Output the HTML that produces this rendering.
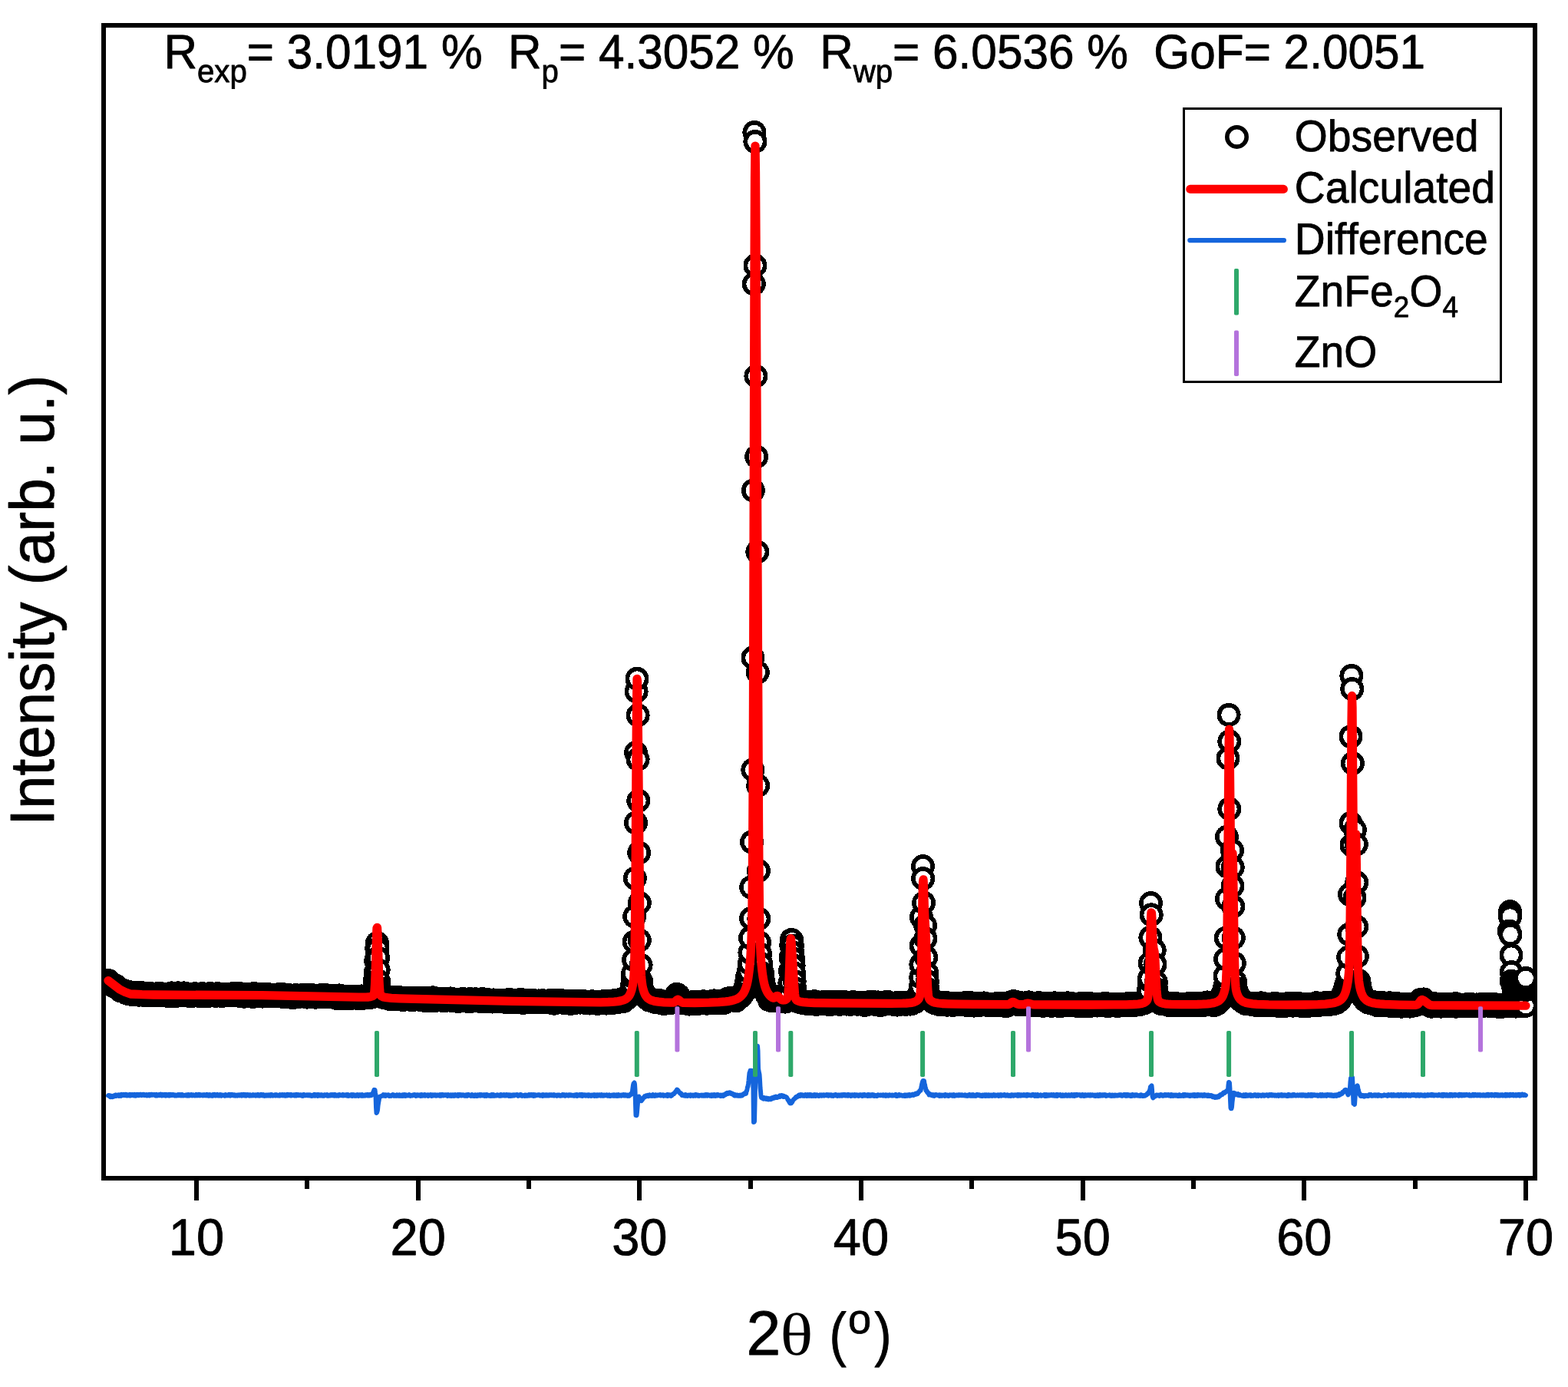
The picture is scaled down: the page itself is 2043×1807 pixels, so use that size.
<!DOCTYPE html>
<html lang="en">
<head>
<meta charset="utf-8">
<title>Rietveld refinement - ZnFe2O4 / ZnO</title>
<style>
  html, body { margin: 0; padding: 0; background: #ffffff; }
  body { width: 2043px; height: 1807px; overflow: hidden; }
  svg { display: block; }
  text { font-family: "Liberation Sans", Arial, Helvetica, sans-serif; fill: #000000; stroke: #000000; stroke-width: 0.8px; stroke-linejoin: round; white-space: pre; font-kerning: none; text-rendering: geometricPrecision; }
  .serif { font-family: "Liberation Serif", "Times New Roman", serif; stroke: none; }
</style>
</head>
<body>
<svg width="2043" height="1807" viewBox="0 0 2043 1807">
  <rect x="0" y="0" width="2043" height="1807" fill="#ffffff"/>

  <!-- plot frame -->
  <g shape-rendering="crispEdges">
    <rect x="135" y="33" width="1865" height="1502" fill="none" stroke="#000000" stroke-width="6"/>
    <!-- major ticks -->
    <g fill="#000000">
      <rect x="253" y="1535" width="6" height="29"/>
      <rect x="542" y="1535" width="6" height="29"/>
      <rect x="830" y="1535" width="6" height="29"/>
      <rect x="1119" y="1535" width="6" height="29"/>
      <rect x="1408" y="1535" width="6" height="29"/>
      <rect x="1696" y="1535" width="6" height="29"/>
      <rect x="1985" y="1535" width="6" height="29"/>
      <!-- minor ticks -->
      <rect x="397" y="1535" width="6" height="14"/>
      <rect x="686" y="1535" width="6" height="14"/>
      <rect x="975" y="1535" width="6" height="14"/>
      <rect x="1263" y="1535" width="6" height="14"/>
      <rect x="1552" y="1535" width="6" height="14"/>
      <rect x="1841" y="1535" width="6" height="14"/>
    </g>
  </g>

  <!-- observed / calculated / difference data -->
  <defs>
    <clipPath id="plotclip"><rect x="132" y="30" width="1871" height="1508"/></clipPath>
    <marker id="pt" viewBox="-16 -16 32 32" markerWidth="32" markerHeight="32" refX="0" refY="0" markerUnits="userSpaceOnUse" overflow="visible"><circle cx="0" cy="0" r="12.7" fill="#ffffff" stroke="#000000" stroke-width="5.6" shape-rendering="crispEdges"/></marker>
  </defs>
  <g id="data" clip-path="url(#plotclip)">
    <polyline id="observed" points="141,1277.4 141.6,1278.7 142.2,1278.8 142.7,1279.5 143.3,1279.7 143.9,1281 144.5,1282.7 145,1282.8 145.6,1283.6 146.2,1283.3 146.8,1283.7 147.4,1283.8 147.9,1282.7 148.5,1284.9 149.1,1284.9 149.7,1285.2 150.2,1283.9 150.8,1284.2 151.4,1285.3 152,1286 152.5,1286.9 153.1,1287.1 153.7,1287.9 154.3,1287.4 154.9,1288.5 155.4,1289 156,1288.5 156.6,1290.6 157.2,1290 157.7,1290.7 158.3,1289.6 158.9,1289.7 159.5,1290.3 160.1,1290.7 160.6,1291.5 161.2,1291.4 161.8,1291.2 162.4,1291.1 162.9,1291.7 163.5,1293.2 164.1,1291.9 164.7,1292.9 165.2,1293.2 165.8,1292 166.4,1293.3 167,1294.5 167.6,1292.2 168.1,1293.7 168.7,1294.1 169.3,1293.7 169.9,1294.9 170.4,1294.6 171,1293.5 171.6,1295.3 172.2,1295.2 172.8,1295.4 173.3,1295.8 173.9,1295.1 174.5,1294.9 175.1,1293.9 175.6,1295.3 176.2,1294.4 176.8,1294.6 177.4,1294 177.9,1294.3 178.5,1294.6 179.1,1296 179.7,1293.5 180.3,1294 180.8,1295.3 181.4,1296.2 182,1295.6 182.6,1293.8 183.1,1293.3 183.7,1295.5 184.3,1294.7 184.9,1294.5 185.5,1296.1 186,1296.2 186.6,1295.5 187.2,1295.5 187.8,1295.7 188.3,1296.6 188.9,1295.9 189.5,1295.8 190.1,1295.8 190.6,1294.3 191.2,1296.4 191.8,1296.2 192.4,1295.9 193,1294 193.5,1295 194.1,1296.1 194.7,1294.2 195.3,1295.4 195.8,1296.3 196.4,1294.6 197,1296.8 197.6,1296 198.2,1295.5 198.7,1295.9 199.3,1296.1 199.9,1295.7 200.5,1296.5 201,1295.1 201.6,1295.3 202.2,1296.4 202.8,1295.7 203.3,1295 203.9,1296.4 204.5,1296.8 205.1,1295.3 205.7,1294.6 206.2,1295.6 206.8,1295.6 207.4,1295.5 208,1296.7 208.5,1294.9 209.1,1296.6 209.7,1294.7 210.3,1295.1 210.9,1296.2 211.4,1296.6 212,1296.4 212.6,1296 213.2,1295.8 213.7,1295.8 214.3,1296.2 214.9,1295.6 215.5,1295.9 216,1296.2 216.6,1295.7 217.2,1296.3 217.8,1296.2 218.4,1297.3 218.9,1296 219.5,1295.4 220.1,1295.5 220.7,1295.8 221.2,1296.5 221.8,1295.5 222.4,1296.1 223,1297.2 223.6,1293.9 224.1,1294.9 224.7,1296 225.3,1296.1 225.9,1296 226.4,1295.5 227,1296.3 227.6,1296 228.2,1295.4 228.7,1297.6 229.3,1296.1 229.9,1295.4 230.5,1295.7 231.1,1295.7 231.6,1295.8 232.2,1293.8 232.8,1295.5 233.4,1296.6 233.9,1295 234.5,1295.8 235.1,1296.6 235.7,1296.5 236.3,1297 236.8,1294.6 237.4,1295.6 238,1295.6 238.6,1296.3 239.1,1296.7 239.7,1293.9 240.3,1296.7 240.9,1294.8 241.5,1296.4 242,1294.8 242.6,1296 243.2,1296.8 243.8,1295.8 244.3,1296.1 244.9,1296.5 245.5,1296 246.1,1295.9 246.6,1297.1 247.2,1296.7 247.8,1295.7 248.4,1298 249,1295.1 249.5,1296.6 250.1,1295.7 250.7,1296 251.3,1296.5 251.8,1296.1 252.4,1296.4 253,1294.8 253.6,1294.8 254.2,1296.4 254.7,1295.2 255.3,1295.2 255.9,1294.9 256.5,1296.9 257,1296.5 257.6,1297.1 258.2,1295.3 258.8,1296 259.3,1295.1 259.9,1296.6 260.5,1297.2 261.1,1295.3 261.7,1297.2 262.2,1296.8 262.8,1295.9 263.4,1294.5 264,1297.1 264.5,1296 265.1,1295.6 265.7,1296.3 266.3,1296.4 266.9,1297.2 267.4,1295.3 268,1296.9 268.6,1297.2 269.2,1297.2 269.7,1295.9 270.3,1295.5 270.9,1296.8 271.5,1296.2 272,1296.2 272.6,1297.2 273.2,1295.9 273.8,1294.4 274.4,1295.8 274.9,1294.7 275.5,1296.7 276.1,1296.3 276.7,1295.6 277.2,1296.1 277.8,1296.7 278.4,1296.2 279,1297.1 279.6,1296.1 280.1,1296.9 280.7,1297.3 281.3,1297.3 281.9,1295.6 282.4,1296.8 283,1294.7 283.6,1295.3 284.2,1294.7 284.7,1297 285.3,1295.2 285.9,1296.2 286.5,1296 287.1,1296.1 287.6,1295.7 288.2,1296.4 288.8,1297.5 289.4,1296.2 289.9,1296.6 290.5,1296.9 291.1,1296 291.7,1295.3 292.3,1295.8 292.8,1297 293.4,1295 294,1295.8 294.6,1297 295.1,1296.8 295.7,1296.2 296.3,1296.8 296.9,1296.4 297.4,1295.4 298,1295.1 298.6,1295.8 299.2,1296.9 299.8,1295.8 300.3,1295.6 300.9,1295.7 301.5,1295.1 302.1,1296.2 302.6,1295.4 303.2,1296.5 303.8,1294.5 304.4,1296.5 305,1295.8 305.5,1294.8 306.1,1296.8 306.7,1296.1 307.3,1294.6 307.8,1295.6 308.4,1296.5 309,1296 309.6,1296.9 310.1,1296.9 310.7,1296.8 311.3,1296.6 311.9,1297.3 312.5,1296.8 313,1296.7 313.6,1294.8 314.2,1297 314.8,1297.3 315.3,1296.1 315.9,1296 316.5,1297.8 317.1,1295 317.7,1296.7 318.2,1298.2 318.8,1295.7 319.4,1296.9 320,1297.8 320.5,1296.3 321.1,1296.8 321.7,1297.1 322.3,1295.7 322.8,1296.3 323.4,1296.6 324,1297 324.6,1296.4 325.2,1296.3 325.7,1295.6 326.3,1296.1 326.9,1297.1 327.5,1296.5 328,1295.8 328.6,1295.8 329.2,1298.4 329.8,1297.3 330.4,1296.9 330.9,1294.5 331.5,1296.9 332.1,1296.8 332.7,1297.7 333.2,1296.8 333.8,1296.4 334.4,1296.9 335,1295 335.6,1297.2 336.1,1296.7 336.7,1295.9 337.3,1297.5 337.9,1297.8 338.4,1295.4 339,1296 339.6,1296.7 340.2,1296.6 340.7,1296.2 341.3,1295.8 341.9,1298.1 342.5,1297.3 343.1,1295.7 343.6,1295.5 344.2,1297.8 344.8,1297.3 345.4,1298 345.9,1297.2 346.5,1296 347.1,1296.8 347.7,1295 348.3,1296.1 348.8,1296.6 349.4,1297.1 350,1296.2 350.6,1296.6 351.1,1297.1 351.7,1297 352.3,1297.2 352.9,1296.9 353.4,1296.5 354,1297.4 354.6,1296.8 355.2,1296.2 355.8,1296.4 356.3,1296.8 356.9,1296.8 357.5,1297 358.1,1296.9 358.6,1297 359.2,1296.8 359.8,1296 360.4,1297.2 361,1297.7 361.5,1297.3 362.1,1296.8 362.7,1297.3 363.3,1296.3 363.8,1295.6 364.4,1297.1 365,1296.3 365.6,1297.6 366.1,1296.2 366.7,1295.1 367.3,1296.3 367.9,1298.3 368.5,1296.8 369,1296.1 369.6,1296.6 370.2,1297.5 370.8,1297.5 371.3,1297.3 371.9,1298.3 372.5,1297.7 373.1,1297.2 373.7,1297.7 374.2,1298.5 374.8,1298 375.4,1298 376,1296.5 376.5,1297.2 377.1,1297.8 377.7,1297.1 378.3,1298.1 378.8,1297.8 379.4,1298 380,1297.2 380.6,1299.3 381.2,1298.3 381.7,1297.2 382.3,1297.5 382.9,1299.4 383.5,1297.2 384,1298.1 384.6,1298.2 385.2,1297.5 385.8,1296.6 386.4,1297.6 386.9,1297.8 387.5,1298.4 388.1,1298.1 388.7,1297.6 389.2,1298.2 389.8,1298 390.4,1297.7 391,1297.6 391.5,1297.4 392.1,1298.1 392.7,1296.8 393.3,1297.2 393.9,1297.7 394.4,1296.6 395,1297.4 395.6,1296.2 396.2,1297.2 396.7,1298.1 397.3,1298.2 397.9,1297.7 398.5,1297.6 399.1,1296.7 399.6,1299.1 400.2,1298.2 400.8,1298.6 401.4,1297.2 401.9,1297.7 402.5,1296.5 403.1,1298.4 403.7,1298.6 404.2,1296.5 404.8,1297.9 405.4,1298.4 406,1296.6 406.6,1296.6 407.1,1297.1 407.7,1297.5 408.3,1296.9 408.9,1298 409.4,1298.2 410,1298.5 410.6,1298.5 411.2,1299.2 411.8,1298.9 412.3,1297.1 412.9,1297.7 413.5,1297.3 414.1,1297.3 414.6,1298 415.2,1298.1 415.8,1298.5 416.4,1296.9 416.9,1297.2 417.5,1298.1 418.1,1298 418.7,1298 419.3,1298.2 419.8,1297.6 420.4,1298.7 421,1298.5 421.6,1298.2 422.1,1297.8 422.7,1298.1 423.3,1296.2 423.9,1297.6 424.5,1298.3 425,1297.2 425.6,1298.5 426.2,1298.5 426.8,1297.3 427.3,1298.2 427.9,1298.1 428.5,1298.7 429.1,1298.9 429.6,1298.4 430.2,1297.8 430.8,1298.3 431.4,1298.4 432,1299 432.5,1298.7 433.1,1297.9 433.7,1297.5 434.3,1298.2 434.8,1298 435.4,1297.7 436,1298.5 436.6,1298.2 437.2,1298.7 437.7,1299 438.3,1298.3 438.9,1300.4 439.5,1298.4 440,1299.5 440.6,1298.7 441.2,1299.5 441.8,1296.9 442.4,1298.1 442.9,1298.9 443.5,1299.2 444.1,1300.5 444.7,1299 445.2,1299.7 445.8,1299.3 446.4,1299.5 447,1299.2 447.5,1298.7 448.1,1299.2 448.7,1298 449.3,1299.7 449.9,1298.1 450.4,1299 451,1300.5 451.6,1298.7 452.2,1298.9 452.7,1299.8 453.3,1298.9 453.9,1298.3 454.5,1299.2 455.1,1299.4 455.6,1299.5 456.2,1298.4 456.8,1300.3 457.4,1300.3 457.9,1299.1 458.5,1299.3 459.1,1298.7 459.7,1300.1 460.2,1298.6 460.8,1299.6 461.4,1298.8 462,1298.6 462.6,1299.7 463.1,1300.1 463.7,1299.2 464.3,1298.7 464.9,1299.8 465.4,1299.2 466,1299.4 466.6,1300.3 467.2,1300.1 467.8,1298.8 468.3,1300.9 468.9,1299.2 469.5,1299.8 470.1,1298.8 470.6,1299.2 471.2,1297.9 471.8,1300.6 472.4,1300.3 472.9,1298.3 473.5,1298.1 474.1,1298 474.7,1300.1 475.3,1298.9 475.8,1299.1 476.4,1298.9 477,1299.1 477.6,1298.3 478.1,1299.1 478.7,1298 479.3,1299 479.9,1299.2 480.5,1299.3 481,1298.7 481.6,1298.1 482.2,1298.8 482.8,1298.2 483.3,1299.3 483.9,1298.1 484.5,1296.8 485.1,1295.8 485.6,1294.6 486.2,1292.3 486.8,1290.3 487.4,1288.6 488,1284.8 488.5,1276.6 489.1,1267.2 489.7,1251.9 490.3,1249.1 490.8,1235.7 491.4,1228.4 492,1236.1 492.6,1247.9 493.2,1263.8 493.7,1278.4 494.3,1287.1 494.9,1293.5 495.5,1296.5 496,1298.3 496.6,1296.7 497.2,1297.5 497.8,1298.2 498.3,1297.7 498.9,1297.9 499.5,1299.4 500.1,1298.6 500.7,1299.7 501.2,1299.9 501.8,1299.7 502.4,1299.9 503,1299.5 503.5,1298.7 504.1,1299.8 504.7,1300.2 505.3,1299.5 505.9,1299.9 506.4,1300.6 507,1299.4 507.6,1300.6 508.2,1301.6 508.7,1299.8 509.3,1300.4 509.9,1300.2 510.5,1301.5 511,1300.6 511.6,1301.1 512.2,1299.9 512.8,1300.4 513.4,1300.5 513.9,1299.2 514.5,1301.6 515.1,1301.2 515.7,1299.3 516.2,1301.2 516.8,1300.5 517.4,1301 518,1301 518.6,1299.6 519.1,1300.6 519.7,1301.9 520.3,1300.3 520.9,1300 521.4,1299.8 522,1299.9 522.6,1301.1 523.2,1302.1 523.7,1301.2 524.3,1301.1 524.9,1302.6 525.5,1300.6 526.1,1300.5 526.6,1301.4 527.2,1301.4 527.8,1300.3 528.4,1300.2 528.9,1301.3 529.5,1301.3 530.1,1300.1 530.7,1301 531.3,1300.7 531.8,1301.5 532.4,1301.1 533,1301.1 533.6,1301 534.1,1302 534.7,1302.3 535.3,1301 535.9,1301.9 536.5,1300.7 537,1301.4 537.6,1301.9 538.2,1302.5 538.8,1301.1 539.3,1301.3 539.9,1301.6 540.5,1300.3 541.1,1301.4 541.6,1300.9 542.2,1301.7 542.8,1300.6 543.4,1300 544,1301.5 544.5,1301.7 545.1,1301.1 545.7,1302.2 546.3,1301.4 546.8,1301.1 547.4,1302 548,1300.4 548.6,1301.1 549.2,1301.6 549.7,1302.3 550.3,1301.5 550.9,1301.9 551.5,1301.2 552,1301.9 552.6,1303 553.2,1301.2 553.8,1303.5 554.3,1301.3 554.9,1301.8 555.5,1301.9 556.1,1302.6 556.7,1300.9 557.2,1300.2 557.8,1302.3 558.4,1302.4 559,1302.3 559.5,1303.9 560.1,1302 560.7,1302.1 561.3,1302.6 561.9,1302.2 562.4,1303.2 563,1301 563.6,1301.7 564.2,1299.8 564.7,1302.6 565.3,1301.7 565.9,1302.7 566.5,1303.7 567,1302 567.6,1301.9 568.2,1301.7 568.8,1301.5 569.4,1301.6 569.9,1302.6 570.5,1302.2 571.1,1302.2 571.7,1302 572.2,1302.9 572.8,1302.6 573.4,1302.1 574,1302.7 574.6,1302.1 575.1,1301.4 575.7,1303.3 576.3,1302.6 576.9,1301.6 577.4,1303.1 578,1302.6 578.6,1301.1 579.2,1303.5 579.7,1302.6 580.3,1303 580.9,1302.5 581.5,1302.3 582.1,1301.2 582.6,1303.1 583.2,1302.4 583.8,1302.2 584.4,1302.7 584.9,1302.5 585.5,1303 586.1,1302.2 586.7,1302.5 587.3,1300.9 587.8,1302.2 588.4,1303.1 589,1303.6 589.6,1302.3 590.1,1302.5 590.7,1303.8 591.3,1302.4 591.9,1303.2 592.4,1303.9 593,1302.7 593.6,1303.6 594.2,1302.1 594.8,1302.8 595.3,1302.6 595.9,1302.8 596.5,1303.6 597.1,1304.5 597.6,1302.3 598.2,1302.3 598.8,1303.2 599.4,1302 600,1303.2 600.5,1303.2 601.1,1302.6 601.7,1303.2 602.3,1301.7 602.8,1303.4 603.4,1301.7 604,1302.4 604.6,1302.5 605.1,1302.6 605.7,1303.6 606.3,1303 606.9,1302.7 607.5,1303.4 608,1304.2 608.6,1303 609.2,1303.3 609.8,1304 610.3,1303.2 610.9,1302.1 611.5,1304.9 612.1,1304.7 612.7,1301.6 613.2,1303.1 613.8,1303.4 614.4,1303.9 615,1303.6 615.5,1303 616.1,1302.4 616.7,1303.3 617.3,1304 617.8,1302.4 618.4,1302.5 619,1303.2 619.6,1301.8 620.2,1303.1 620.7,1302.9 621.3,1303.6 621.9,1302.8 622.5,1302.7 623,1303 623.6,1303.3 624.2,1302.9 624.8,1303.4 625.4,1303.9 625.9,1304.3 626.5,1304.7 627.1,1302.8 627.7,1303.1 628.2,1301.6 628.8,1304.9 629.4,1302.9 630,1303.5 630.6,1303.9 631.1,1302.5 631.7,1303.9 632.3,1303.5 632.9,1302.2 633.4,1303.8 634,1304.5 634.6,1302.2 635.2,1304.2 635.7,1303.8 636.3,1304 636.9,1304 637.5,1304.6 638.1,1303.5 638.6,1304.3 639.2,1303.4 639.8,1304.3 640.4,1303.1 640.9,1303.6 641.5,1305 642.1,1304.1 642.7,1303.7 643.3,1302.9 643.8,1303.2 644.4,1304 645,1304.5 645.6,1304.2 646.1,1304.2 646.7,1303.8 647.3,1304.9 647.9,1303.6 648.4,1303.5 649,1304.6 649.6,1304 650.2,1303.7 650.8,1303.5 651.3,1303.8 651.9,1304.4 652.5,1304.3 653.1,1303.1 653.6,1304.3 654.2,1304.2 654.8,1303.3 655.4,1304.6 656,1303.9 656.5,1303.8 657.1,1304.7 657.7,1305.1 658.3,1303.6 658.8,1304.5 659.4,1303.5 660,1305.9 660.6,1303.8 661.1,1305.1 661.7,1303.7 662.3,1304.8 662.9,1305.9 663.5,1302.3 664,1303.9 664.6,1304.6 665.2,1304.2 665.8,1303.8 666.3,1305.9 666.9,1304.4 667.5,1303.1 668.1,1305 668.7,1303 669.2,1305.2 669.8,1303.9 670.4,1304.5 671,1305.3 671.5,1304.5 672.1,1303.4 672.7,1303.1 673.3,1305.3 673.8,1305 674.4,1303.8 675,1305.1 675.6,1304.8 676.2,1304.9 676.7,1302.8 677.3,1304.3 677.9,1305.2 678.5,1305 679,1305.2 679.6,1302.7 680.2,1304.7 680.8,1304.9 681.4,1306.5 681.9,1303.8 682.5,1304.3 683.1,1304.6 683.7,1305.2 684.2,1304.3 684.8,1305.5 685.4,1304 686,1304.8 686.5,1304.2 687.1,1304.8 687.7,1304.1 688.3,1303.5 688.9,1305.5 689.4,1304.9 690,1304.3 690.6,1304.8 691.2,1305.4 691.7,1304 692.3,1304.6 692.9,1305.1 693.5,1305.1 694.1,1304.5 694.6,1303.2 695.2,1305.7 695.8,1305 696.4,1304.8 696.9,1304.6 697.5,1305 698.1,1304.5 698.7,1304.1 699.2,1304.3 699.8,1304.4 700.4,1304.4 701,1304 701.6,1305.4 702.1,1303.9 702.7,1305.4 703.3,1304.1 703.9,1305.2 704.4,1306 705,1305.1 705.6,1304.4 706.2,1305 706.8,1305.1 707.3,1303.7 707.9,1304.5 708.5,1305.1 709.1,1304.6 709.6,1305.1 710.2,1305.6 710.8,1305.6 711.4,1305.7 711.9,1305.5 712.5,1304.8 713.1,1305 713.7,1304.9 714.3,1304.8 714.8,1304.9 715.4,1303.8 716,1304.9 716.6,1305.1 717.1,1304.4 717.7,1305.1 718.3,1305.5 718.9,1305 719.5,1306.7 720,1303.2 720.6,1305 721.2,1303.8 721.8,1305.9 722.3,1307.2 722.9,1303.3 723.5,1305.3 724.1,1305.6 724.7,1305 725.2,1305.7 725.8,1303.6 726.4,1305.9 727,1305.5 727.5,1305.3 728.1,1304.8 728.7,1305.8 729.3,1304.9 729.8,1305.5 730.4,1304.9 731,1303.6 731.6,1305.3 732.2,1305.5 732.7,1305.9 733.3,1304.7 733.9,1305.3 734.5,1305.8 735,1305.5 735.6,1306.3 736.2,1306.9 736.8,1304.7 737.4,1304 737.9,1306.1 738.5,1306.6 739.1,1306.1 739.7,1306.1 740.2,1305 740.8,1304.9 741.4,1306.1 742,1304.8 742.5,1304.1 743.1,1304.7 743.7,1307.4 744.3,1307 744.9,1305 745.4,1305 746,1305.7 746.6,1305 747.2,1306.5 747.7,1305.5 748.3,1304.7 748.9,1306.6 749.5,1305.1 750.1,1305.7 750.6,1305.6 751.2,1305.4 751.8,1305.8 752.4,1305.1 752.9,1304.2 753.5,1304 754.1,1304.7 754.7,1305.1 755.2,1305.6 755.8,1305.7 756.4,1306.1 757,1305.8 757.6,1305.1 758.1,1305.1 758.7,1304.1 759.3,1305.6 759.9,1306.1 760.4,1306.1 761,1305.6 761.6,1305.6 762.2,1306.4 762.8,1305.7 763.3,1306.3 763.9,1306.2 764.5,1305.9 765.1,1306.7 765.6,1305.3 766.2,1305.5 766.8,1305.1 767.4,1305.2 767.9,1306.9 768.5,1307.1 769.1,1305.8 769.7,1306.2 770.3,1306.7 770.8,1306.4 771.4,1306.7 772,1304.8 772.6,1305.3 773.1,1306.1 773.7,1306.9 774.3,1305.9 774.9,1305.2 775.5,1305.5 776,1305.3 776.6,1305.2 777.2,1306.9 777.8,1305.3 778.3,1305.8 778.9,1307.4 779.5,1306.7 780.1,1306 780.6,1305.3 781.2,1306.1 781.8,1307 782.4,1306.3 783,1306.7 783.5,1305.8 784.1,1306.1 784.7,1305.6 785.3,1306.1 785.8,1306.7 786.4,1304.6 787,1305.7 787.6,1305.9 788.2,1305.2 788.7,1305.4 789.3,1306.2 789.9,1307.1 790.5,1306.1 791,1305.8 791.6,1304.4 792.2,1307 792.8,1305.6 793.3,1305.5 793.9,1304.6 794.5,1305.4 795.1,1304.6 795.7,1305.5 796.2,1305.7 796.8,1305.4 797.4,1305.5 798,1304.6 798.5,1306.3 799.1,1304.7 799.7,1303.8 800.3,1305 800.9,1304.5 801.4,1304.3 802,1304.7 802.6,1305.1 803.2,1304 803.7,1304.7 804.3,1305.8 804.9,1305.2 805.5,1304.5 806,1304.6 806.6,1304.3 807.2,1304.3 807.8,1304.7 808.4,1304 808.9,1302.2 809.5,1303.8 810.1,1303 810.7,1304 811.2,1302.9 811.8,1303.3 812.4,1304.6 813,1302 813.6,1301.7 814.1,1301.2 814.7,1300.1 815.3,1300.2 815.9,1301.5 816.4,1300.4 817,1299 817.6,1298.8 818.2,1299.7 818.8,1298 819.3,1297.6 819.9,1297.3 820.5,1296.7 821.1,1295.6 821.6,1293.2 822.2,1290.6 822.8,1288.4 823.4,1287.1 823.9,1281.1 824.5,1272.7 824.6,1268.4 825.7,1250.6 826.2,1227 826.7,1194 827.3,1144.3 828.5,1072 828.5,980.6 829.1,900.9 830,884.3 831.1,931.9 831.1,989.4 831.8,1043.2 832.7,1111 833.3,1176.4 833.3,1225 835.1,1257.3 835.5,1278.1 836.1,1284.5 836.6,1287.9 837.2,1290.8 837.8,1290.7 838.4,1292.5 839,1293.6 839.5,1295.2 840.1,1296 840.7,1297.7 841.3,1298.5 841.8,1299 842.4,1299.1 843,1299.8 843.6,1301.3 844.2,1301.5 844.7,1301.4 845.3,1301.3 845.9,1303 846.5,1301.7 847,1302.9 847.6,1303.5 848.2,1302.7 848.8,1303.8 849.3,1302.5 849.9,1304.3 850.5,1303.9 851.1,1302.7 851.7,1304.6 852.2,1303.5 852.8,1305.3 853.4,1303.9 854,1304.4 854.5,1304.9 855.1,1304.5 855.7,1305 856.3,1304.5 856.9,1305.5 857.4,1305.1 858,1305.3 858.6,1303.2 859.2,1306.2 859.7,1305.4 860.3,1304.1 860.9,1305.5 861.5,1305.9 862,1306.4 862.6,1304.8 863.2,1306.8 863.8,1305.6 864.4,1307.5 864.9,1305.6 865.5,1306.3 866.1,1305.5 866.7,1305 867.2,1306.7 867.8,1306.6 868.4,1307.1 869,1306.6 869.6,1305.6 870.1,1304.8 870.7,1305.6 871.3,1305.6 871.9,1305.5 872.4,1306.5 873,1306.4 873.6,1305.9 874.2,1306.3 874.7,1306.1 875.3,1306.1 875.9,1306.2 876.5,1305.9 877.1,1304.3 877.6,1303.2 878.2,1304.8 878.8,1303.2 879.4,1303.2 879.9,1299.8 880.5,1299.3 881.1,1298 881.7,1295.3 882.3,1295.4 882.8,1296 883.4,1296.2 884,1297.8 884.6,1297.4 885.1,1298.5 885.7,1301.3 886.3,1302.6 886.9,1303 887.4,1302.7 888,1305 888.6,1305.7 889.2,1306.1 889.8,1305.8 890.3,1306.6 890.9,1307 891.5,1306 892.1,1305.1 892.6,1306.7 893.2,1306.9 893.8,1306.5 894.4,1307.2 895,1306.1 895.5,1306.5 896.1,1306.3 896.7,1307 897.3,1307.7 897.8,1306.3 898.4,1308.1 899,1307.7 899.6,1307.1 900.1,1307 900.7,1307.9 901.3,1306.4 901.9,1306.4 902.5,1305.7 903,1306.9 903.6,1307.5 904.2,1306.9 904.8,1306.8 905.3,1306.4 905.9,1306.6 906.5,1305.4 907.1,1307.3 907.7,1306.2 908.2,1305.6 908.8,1305.9 909.4,1305.8 910,1307.1 910.5,1307.2 911.1,1305.4 911.7,1307.1 912.3,1307.1 912.9,1306 913.4,1305.3 914,1305.8 914.6,1305.9 915.2,1306.6 915.7,1306.1 916.3,1304.8 916.9,1306.5 917.5,1305.2 918,1307 918.6,1305.4 919.2,1305.8 919.8,1305.6 920.4,1305.9 920.9,1307.2 921.5,1306.9 922.1,1306.7 922.7,1306.5 923.2,1305 923.8,1305.8 924.4,1305.8 925,1305.4 925.6,1306.5 926.1,1305.6 926.7,1305.6 927.3,1305.3 927.9,1304.5 928.4,1306.5 929,1307 929.6,1306.1 930.2,1305.2 930.7,1303.9 931.3,1306 931.9,1306.8 932.5,1306.1 933.1,1306.5 933.6,1306.9 934.2,1306.6 934.8,1305.4 935.4,1306.5 935.9,1306.3 936.5,1304.5 937.1,1305.3 937.7,1304.5 938.3,1305.4 938.8,1305.9 939.4,1304.6 940,1303.9 940.6,1306.3 941.1,1305.6 941.7,1306.4 942.3,1304.2 942.9,1306 943.4,1306.4 944,1306 944.6,1304 945.2,1304 945.8,1303.4 946.3,1303.9 946.9,1303.5 947.5,1302.5 948.1,1301 948.6,1302.2 949.2,1300.9 949.8,1301.4 950.4,1300.7 951,1301.9 951.5,1301.7 952.1,1300.6 952.7,1301.4 953.3,1302.6 953.8,1301.1 954.4,1302.1 955,1302.8 955.6,1303.1 956.1,1302.7 956.7,1301.5 957.3,1301.6 957.9,1302.5 958.5,1302.4 959,1303.8 959.6,1301 960.2,1302.2 960.8,1301.7 961.3,1299.5 961.9,1299.9 962.5,1300.2 963.1,1299.4 963.7,1299.2 964.2,1299.3 964.8,1297.8 965.4,1298.3 966,1296.9 966.5,1296.1 967.1,1295.9 967.7,1294 968.3,1293.6 968.8,1293.4 969.4,1290.9 970,1289.4 970.6,1288.5 971.2,1286 971.7,1285.2 972.3,1280.4 972.9,1277.8 973.5,1272.6 975.3,1266 976.4,1255 976.9,1241 977.6,1222 978.6,1196.5 978.7,1156 979.6,1097 980.8,1003 981,857 981.4,639 982.3,370 982.9,172.5 983.9,184.5 984,346 984.9,490 985.7,595 986.8,719 987.3,876 987.7,1023.5 988.4,1134.5 988.8,1197 989.5,1228 990.5,1243 992,1256 993.5,1268 993.7,1273.6 994.2,1276.2 994.8,1281.6 995.4,1283.4 996,1286.3 996.6,1288.7 997.1,1291.1 997.7,1292.1 998.3,1294 998.9,1294.9 999.4,1296.7 1000,1296.8 1000.6,1298.8 1001.2,1298.2 1001.8,1300.2 1002.3,1302.8 1002.9,1301.8 1003.5,1301.2 1004.1,1302.7 1004.6,1302.1 1005.2,1301.8 1005.8,1302.7 1006.4,1303.9 1007,1303.7 1007.5,1303.4 1008.1,1302.6 1008.7,1302.2 1009.3,1303.5 1009.8,1302.1 1010.4,1300.6 1011,1299 1011.6,1298.9 1012.1,1301.4 1012.7,1298.4 1013.3,1299.3 1013.9,1299.7 1014.5,1299.9 1015,1300.3 1015.6,1300.1 1016.2,1300.9 1016.8,1303.5 1017.3,1302.1 1017.9,1303.6 1018.5,1301.9 1019.1,1303.2 1019.7,1303.9 1020.2,1304.8 1020.8,1303.4 1021.4,1304.9 1022,1304.9 1022.5,1304.1 1023.1,1305.1 1023.7,1304.1 1024.3,1304.1 1024.8,1302.2 1025.4,1302.5 1026,1302.3 1026.6,1301.6 1027.2,1299.8 1027.7,1297.8 1028.3,1291.4 1028.9,1280.7 1029.5,1265 1030,1247.4 1030.6,1231.4 1031.2,1224.5 1031.8,1224.8 1032.4,1232.1 1032.9,1240.8 1033.5,1249.1 1034.1,1258 1034.7,1267.9 1035.2,1278.5 1035.8,1287.7 1036.4,1295.2 1037,1299.1 1037.5,1301.7 1038.1,1302.9 1038.7,1303.2 1039.3,1304.7 1039.9,1304.8 1040.4,1304.8 1041,1304.9 1041.6,1303.8 1042.2,1305.6 1042.7,1304.6 1043.3,1305.9 1043.9,1305.3 1044.5,1303.9 1045.1,1304.5 1045.6,1306.4 1046.2,1305.5 1046.8,1305.4 1047.4,1305.9 1047.9,1305.5 1048.5,1305.4 1049.1,1306 1049.7,1306 1050.2,1307.1 1050.8,1306 1051.4,1307.5 1052,1307.4 1052.6,1307.4 1053.1,1306.9 1053.7,1306.3 1054.3,1306.3 1054.9,1306.1 1055.4,1305.7 1056,1306.2 1056.6,1305.8 1057.2,1307.6 1057.8,1306.7 1058.3,1306 1058.9,1304.9 1059.5,1306.4 1060.1,1306.1 1060.6,1305.6 1061.2,1305.6 1061.8,1304.8 1062.4,1306.9 1062.9,1306.5 1063.5,1308.5 1064.1,1306.5 1064.7,1306.4 1065.3,1307.6 1065.8,1306.7 1066.4,1306.7 1067,1306.3 1067.6,1306.2 1068.1,1307.7 1068.7,1307.4 1069.3,1307.9 1069.9,1306.4 1070.5,1306.7 1071,1306 1071.6,1307.4 1072.2,1305.6 1072.8,1307.1 1073.3,1307.5 1073.9,1307.8 1074.5,1306 1075.1,1307.5 1075.6,1306.2 1076.2,1306.2 1076.8,1305.8 1077.4,1307.6 1078,1308 1078.5,1306.3 1079.1,1306.2 1079.7,1306.5 1080.3,1308.7 1080.8,1307.5 1081.4,1306.4 1082,1305.5 1082.6,1306.3 1083.2,1307.7 1083.7,1308.2 1084.3,1306.6 1084.9,1306.3 1085.5,1306.5 1086,1305.4 1086.6,1307.5 1087.2,1306 1087.8,1307.7 1088.3,1305.6 1088.9,1305.9 1089.5,1307.1 1090.1,1306.3 1090.7,1307.5 1091.2,1306.9 1091.8,1306 1092.4,1307.4 1093,1307.5 1093.5,1305.5 1094.1,1308.3 1094.7,1307.3 1095.3,1307.5 1095.9,1305.5 1096.4,1306.4 1097,1306.7 1097.6,1307.7 1098.2,1305.8 1098.7,1306.3 1099.3,1305.4 1099.9,1306.8 1100.5,1307.2 1101,1305.7 1101.6,1306.5 1102.2,1307.3 1102.8,1308.1 1103.4,1307.4 1103.9,1306.7 1104.5,1306.1 1105.1,1306.3 1105.7,1306.5 1106.2,1307.1 1106.8,1307 1107.4,1308.2 1108,1307.2 1108.6,1306.2 1109.1,1308.2 1109.7,1307.7 1110.3,1307.1 1110.9,1306.5 1111.4,1305.6 1112,1306.3 1112.6,1307.7 1113.2,1306.5 1113.8,1306.1 1114.3,1307.2 1114.9,1307.3 1115.5,1307.5 1116.1,1307.6 1116.6,1308.2 1117.2,1306.5 1117.8,1307.8 1118.4,1306.4 1118.9,1307.6 1119.5,1307.3 1120.1,1307.3 1120.7,1307.9 1121.3,1307.1 1121.8,1308 1122.4,1307.8 1123,1307.3 1123.6,1306.7 1124.1,1306.6 1124.7,1306.8 1125.3,1307 1125.9,1307.2 1126.5,1309.4 1127,1307.7 1127.6,1307.8 1128.2,1306.6 1128.8,1306.7 1129.3,1307 1129.9,1307.4 1130.5,1306.5 1131.1,1308.4 1131.6,1306.8 1132.2,1308.1 1132.8,1305.5 1133.4,1307.2 1134,1307.5 1134.5,1307.4 1135.1,1307.7 1135.7,1307.5 1136.3,1307.4 1136.8,1305.9 1137.4,1306.7 1138,1305.5 1138.6,1307.8 1139.2,1307.5 1139.7,1307.2 1140.3,1306.7 1140.9,1306.9 1141.5,1308.7 1142,1308.6 1142.6,1307.3 1143.2,1308.3 1143.8,1306.1 1144.3,1305.9 1144.9,1307 1145.5,1306.7 1146.1,1306.9 1146.7,1307.5 1147.2,1309.5 1147.8,1306.9 1148.4,1307.4 1149,1307.6 1149.5,1307.3 1150.1,1308.1 1150.7,1308.7 1151.3,1306.4 1151.9,1307.5 1152.4,1307.2 1153,1307.6 1153.6,1306.2 1154.2,1306.1 1154.7,1305.6 1155.3,1307.8 1155.9,1307.5 1156.5,1307.4 1157,1305.6 1157.6,1307.1 1158.2,1306.8 1158.8,1306.3 1159.4,1306.7 1159.9,1307.9 1160.5,1307.8 1161.1,1307.4 1161.7,1307.8 1162.2,1306.9 1162.8,1307.4 1163.4,1307.4 1164,1307.8 1164.6,1307.3 1165.1,1307.3 1165.7,1307.3 1166.3,1306.9 1166.9,1309 1167.4,1307.7 1168,1307.7 1168.6,1309.1 1169.2,1308.4 1169.7,1306.2 1170.3,1307.8 1170.9,1307.9 1171.5,1308.7 1172.1,1308.3 1172.6,1307.9 1173.2,1306.4 1173.8,1306.6 1174.4,1307.5 1174.9,1307.6 1175.5,1306.5 1176.1,1306.9 1176.7,1306.9 1177.3,1307.2 1177.8,1307.4 1178.4,1306.9 1179,1306.2 1179.6,1308 1180.1,1308.3 1180.7,1306.9 1181.3,1307.8 1181.9,1307.3 1182.4,1307.4 1183,1307.2 1183.6,1306.3 1184.2,1307.2 1184.8,1307.5 1185.3,1306 1185.9,1308.1 1186.5,1308.1 1187.1,1307.8 1187.6,1307.8 1188.2,1306.7 1188.8,1305.6 1189.4,1305.2 1190,1304.7 1190.5,1305.1 1191.1,1304.6 1191.7,1304.8 1192.3,1302.4 1192.8,1305.2 1193.4,1304.7 1194,1302.5 1194.6,1302.4 1195.1,1301.5 1195.7,1300.3 1196.3,1298.7 1196.9,1297.5 1197.5,1295.5 1198,1294.3 1198.6,1291.2 1199.2,1285.9 1199.8,1273.3 1199.9,1256.7 1200.3,1232 1200.5,1195 1202.5,1128.7 1202.7,1144.7 1203.6,1176.3 1205.6,1205.6 1205.9,1222.8 1206.7,1247.4 1208,1268 1208.4,1278.7 1209,1288.8 1209.6,1293.9 1210.2,1297.4 1210.7,1299.8 1211.3,1301.4 1211.9,1300.8 1212.5,1301.7 1213,1303.5 1213.6,1302.7 1214.2,1304.2 1214.8,1304.9 1215.4,1305 1215.9,1304.7 1216.5,1305.7 1217.1,1305.7 1217.7,1306.3 1218.2,1305.6 1218.8,1307.2 1219.4,1305.2 1220,1306.5 1220.6,1306.7 1221.1,1307.5 1221.7,1306.4 1222.3,1307.4 1222.9,1306.6 1223.4,1307.7 1224,1308.5 1224.6,1306.9 1225.2,1307.6 1225.7,1306.6 1226.3,1308.1 1226.9,1308.3 1227.5,1307.5 1228.1,1306.6 1228.6,1307.8 1229.2,1308.4 1229.8,1308.4 1230.4,1308.2 1230.9,1306.3 1231.5,1307.2 1232.1,1308.8 1232.7,1306.8 1233.3,1308.6 1233.8,1309.2 1234.4,1308.4 1235,1308.7 1235.6,1307.6 1236.1,1306.9 1236.7,1307.8 1237.3,1307.7 1237.9,1307.9 1238.4,1308.5 1239,1307.8 1239.6,1308.1 1240.2,1308.3 1240.8,1308 1241.3,1309.4 1241.9,1308.3 1242.5,1308.1 1243.1,1307.9 1243.6,1307.6 1244.2,1309.1 1244.8,1308.2 1245.4,1307.3 1246,1307.7 1246.5,1308 1247.1,1307.8 1247.7,1308.9 1248.3,1307.3 1248.8,1308.5 1249.4,1308.3 1250,1307.3 1250.6,1308.2 1251.1,1308.1 1251.7,1308.6 1252.3,1307.9 1252.9,1308.4 1253.5,1307 1254,1307.4 1254.6,1308.8 1255.2,1309 1255.8,1308.3 1256.3,1307.8 1256.9,1309.1 1257.5,1306.7 1258.1,1307.7 1258.7,1308.8 1259.2,1308.8 1259.8,1307.5 1260.4,1306.9 1261,1309.4 1261.5,1308.5 1262.1,1307.7 1262.7,1308.4 1263.3,1309 1263.8,1306.4 1264.4,1309.2 1265,1308.9 1265.6,1306.8 1266.2,1309 1266.7,1307.1 1267.3,1309.3 1267.9,1308.7 1268.5,1310.1 1269,1308 1269.6,1308.4 1270.2,1309.2 1270.8,1308 1271.4,1307.9 1271.9,1308.2 1272.5,1308.4 1273.1,1307.6 1273.7,1308.8 1274.2,1308.9 1274.8,1308.5 1275.4,1309.7 1276,1308.2 1276.5,1309.5 1277.1,1308.1 1277.7,1309 1278.3,1307 1278.9,1308.6 1279.4,1308.4 1280,1308.1 1280.6,1308 1281.2,1308.2 1281.7,1308 1282.3,1306.9 1282.9,1308.1 1283.5,1308.1 1284.1,1308.1 1284.6,1307.7 1285.2,1308.4 1285.8,1309.1 1286.4,1308.3 1286.9,1308.2 1287.5,1309.6 1288.1,1309.3 1288.7,1309.2 1289.2,1309.4 1289.8,1308.3 1290.4,1308.5 1291,1309.4 1291.6,1308.1 1292.1,1308.5 1292.7,1308.8 1293.3,1308.8 1293.9,1308.4 1294.4,1309.3 1295,1308.4 1295.6,1309.1 1296.2,1309.4 1296.8,1309.1 1297.3,1309.1 1297.9,1307.7 1298.5,1307.6 1299.1,1308.1 1299.6,1309 1300.2,1309.7 1300.8,1307.7 1301.4,1308.8 1302,1308 1302.5,1308.1 1303.1,1308.4 1303.7,1309.1 1304.3,1308.8 1304.8,1309.5 1305.4,1307.9 1306,1309.3 1306.6,1309.3 1307.1,1308.7 1307.7,1309 1308.3,1308.2 1308.9,1307.8 1309.5,1308.3 1310,1308.2 1310.6,1310.8 1311.2,1308.3 1311.8,1309.9 1312.3,1308.8 1312.9,1308.8 1313.5,1309.1 1314.1,1307.9 1314.7,1309 1315.2,1308.4 1315.8,1306.7 1316.4,1307.8 1317,1307.3 1317.5,1306.7 1318.1,1307.1 1318.7,1305.2 1319.3,1305.7 1319.8,1305.9 1320.4,1304.7 1321,1306.5 1321.6,1304.8 1322.2,1305.2 1322.7,1306.9 1323.3,1306 1323.9,1307.1 1324.5,1306.3 1325,1307.9 1325.6,1307.3 1326.2,1308.6 1326.8,1307.3 1327.4,1308.9 1327.9,1308.5 1328.5,1308.7 1329.1,1308.7 1329.7,1308.8 1330.2,1307.7 1330.8,1306.8 1331.4,1308.8 1332,1308 1332.5,1308.4 1333.1,1309 1333.7,1307.1 1334.3,1307.9 1334.9,1307.9 1335.4,1307.3 1336,1308.1 1336.6,1307.5 1337.2,1306.8 1337.7,1306.5 1338.3,1307.7 1338.9,1306.6 1339.5,1307.6 1340.1,1307.6 1340.6,1305.9 1341.2,1306.7 1341.8,1307.7 1342.4,1308.1 1342.9,1308.6 1343.5,1308.8 1344.1,1309.1 1344.7,1308.2 1345.2,1308.4 1345.8,1309.2 1346.4,1308.4 1347,1309.5 1347.6,1307.6 1348.1,1309.3 1348.7,1308.7 1349.3,1307.3 1349.9,1309.5 1350.4,1309 1351,1308.8 1351.6,1308 1352.2,1308.5 1352.8,1310 1353.3,1308.2 1353.9,1306.6 1354.5,1308.2 1355.1,1307.9 1355.6,1308.7 1356.2,1308.5 1356.8,1308.1 1357.4,1308.2 1357.9,1309.6 1358.5,1307.8 1359.1,1310.3 1359.7,1308.4 1360.3,1308 1360.8,1309.4 1361.4,1309.3 1362,1308.1 1362.6,1309.4 1363.1,1307.5 1363.7,1308.2 1364.3,1309.7 1364.9,1308.7 1365.5,1307.9 1366,1309.3 1366.6,1309.6 1367.2,1308.9 1367.8,1307.5 1368.3,1308.6 1368.9,1309.2 1369.5,1309.5 1370.1,1310.3 1370.6,1308.7 1371.2,1308.5 1371.8,1308.9 1372.4,1309.8 1373,1308.2 1373.5,1309.9 1374.1,1306.8 1374.7,1309.5 1375.3,1308.4 1375.8,1309.2 1376.4,1309.4 1377,1308 1377.6,1308.8 1378.2,1309.1 1378.7,1309.4 1379.3,1308.2 1379.9,1308.2 1380.5,1307.5 1381,1310.8 1381.6,1308.8 1382.2,1308.8 1382.8,1307.8 1383.3,1309.6 1383.9,1308.5 1384.5,1310 1385.1,1309.6 1385.7,1309 1386.2,1309.5 1386.8,1308.1 1387.4,1308.7 1388,1308.5 1388.5,1308 1389.1,1309 1389.7,1308.8 1390.3,1310 1390.9,1306.8 1391.4,1308.5 1392,1308.3 1392.6,1308.6 1393.2,1309.3 1393.7,1309.3 1394.3,1309 1394.9,1308.6 1395.5,1309.3 1396.1,1309.2 1396.6,1307.6 1397.2,1308.8 1397.8,1307.9 1398.4,1308.1 1398.9,1309.1 1399.5,1309 1400.1,1309.1 1400.7,1308.3 1401.2,1308.8 1401.8,1308.3 1402.4,1309.3 1403,1309.5 1403.6,1310.3 1404.1,1309.9 1404.7,1308.4 1405.3,1308.6 1405.9,1308.3 1406.4,1309.2 1407,1310.5 1407.6,1309.5 1408.2,1307.3 1408.8,1308 1409.3,1308 1409.9,1309.4 1410.5,1309 1411.1,1309.2 1411.6,1310.3 1412.2,1308.4 1412.8,1308.4 1413.4,1310.5 1413.9,1309.2 1414.5,1308.4 1415.1,1307.5 1415.7,1307.8 1416.3,1307.2 1416.8,1309 1417.4,1309 1418,1309.7 1418.6,1308.9 1419.1,1308.5 1419.7,1308.4 1420.3,1310.4 1420.9,1307.7 1421.5,1309.1 1422,1309 1422.6,1309.4 1423.2,1308.7 1423.8,1309.4 1424.3,1309.6 1424.9,1308.9 1425.5,1308.6 1426.1,1308.8 1426.6,1308.3 1427.2,1308.8 1427.8,1308.8 1428.4,1309.1 1429,1310 1429.5,1310 1430.1,1308.6 1430.7,1309.4 1431.3,1309.2 1431.8,1309.5 1432.4,1309 1433,1309.2 1433.6,1308.6 1434.2,1308.4 1434.7,1309.6 1435.3,1309.9 1435.9,1309.5 1436.5,1309.3 1437,1309.2 1437.6,1308.6 1438.2,1307.6 1438.8,1309.5 1439.3,1309.1 1439.9,1308.5 1440.5,1308.2 1441.1,1309.9 1441.7,1307.6 1442.2,1310.3 1442.8,1309.4 1443.4,1310.7 1444,1308.4 1444.5,1308.9 1445.1,1308.6 1445.7,1309.1 1446.3,1308.8 1446.9,1308.4 1447.4,1309.7 1448,1308.4 1448.6,1308.6 1449.2,1309.4 1449.7,1308.5 1450.3,1308.6 1450.9,1309.2 1451.5,1308.6 1452,1308 1452.6,1308.8 1453.2,1308.8 1453.8,1310.2 1454.4,1308.1 1454.9,1309.6 1455.5,1308.3 1456.1,1308.6 1456.7,1308.6 1457.2,1309.1 1457.8,1309.5 1458.4,1310.2 1459,1308.4 1459.6,1309.9 1460.1,1309.6 1460.7,1309.5 1461.3,1308.3 1461.9,1309.5 1462.4,1308.8 1463,1309.1 1463.6,1308.6 1464.2,1309.3 1464.7,1309.6 1465.3,1309.7 1465.9,1308.6 1466.5,1309.5 1467.1,1309.9 1467.6,1308.1 1468.2,1309.9 1468.8,1307.7 1469.4,1309.1 1469.9,1309.2 1470.5,1309.8 1471.1,1308.9 1471.7,1308.3 1472.3,1308.1 1472.8,1307.7 1473.4,1309.2 1474,1308.4 1474.6,1308.1 1475.1,1309 1475.7,1308 1476.3,1308.2 1476.9,1308.2 1477.4,1309.7 1478,1309.5 1478.6,1308.3 1479.2,1307.2 1479.8,1308.6 1480.3,1308.4 1480.9,1308.5 1481.5,1308.6 1482.1,1307.9 1482.6,1308.8 1483.2,1308.7 1483.8,1308.1 1484.4,1307.6 1485,1307.5 1485.5,1308.3 1486.1,1306.8 1486.7,1307.4 1487.3,1306.9 1487.8,1306.2 1488.4,1307.6 1489,1307 1489.6,1306.8 1490.2,1307.2 1490.7,1305.2 1491.3,1306 1491.9,1305.9 1492.5,1306 1493,1304.1 1493.6,1304.3 1494.2,1302.7 1494.8,1302.1 1495.3,1299.6 1495.9,1295.4 1496.5,1290 1497.1,1277.3 1497.3,1275 1498.2,1254.7 1498.9,1221.5 1499.5,1176.6 1500.2,1191.8 1504.2,1238 1505,1256.5 1506.3,1279.6 1506.9,1288.8 1507.5,1294.7 1508,1300.3 1508.6,1302.7 1509.2,1303.6 1509.8,1304.6 1510.4,1304.9 1510.9,1305.2 1511.5,1304.6 1512.1,1306.1 1512.7,1307.4 1513.2,1307.7 1513.8,1306.7 1514.4,1306.5 1515,1307.1 1515.6,1308 1516.1,1307.7 1516.7,1307.2 1517.3,1307.9 1517.9,1307.6 1518.4,1308.2 1519,1307.6 1519.6,1306.9 1520.2,1308.1 1520.7,1308.7 1521.3,1307.3 1521.9,1308.1 1522.5,1308.9 1523.1,1308 1523.6,1307.8 1524.2,1309.8 1524.8,1309 1525.4,1309.1 1525.9,1307.7 1526.5,1309.6 1527.1,1307.3 1527.7,1308.1 1528.3,1309 1528.8,1309.5 1529.4,1307.9 1530,1308.1 1530.6,1308.7 1531.1,1307.2 1531.7,1309.1 1532.3,1309 1532.9,1308.3 1533.4,1309 1534,1309.2 1534.6,1308.9 1535.2,1309 1535.8,1309.7 1536.3,1308.3 1536.9,1308.8 1537.5,1308.3 1538.1,1309.4 1538.6,1308.4 1539.2,1309 1539.8,1308.8 1540.4,1308.7 1541,1309.9 1541.5,1308.6 1542.1,1309.7 1542.7,1309.3 1543.3,1309.6 1543.8,1308.6 1544.4,1309.3 1545,1309.2 1545.6,1308.2 1546.1,1308.9 1546.7,1308.6 1547.3,1308.6 1547.9,1309.6 1548.5,1308.1 1549,1307.4 1549.6,1307.4 1550.2,1308.3 1550.8,1308.2 1551.3,1308.6 1551.9,1309 1552.5,1309.9 1553.1,1308.8 1553.7,1308.9 1554.2,1308.1 1554.8,1309 1555.4,1309.5 1556,1309.5 1556.5,1307.1 1557.1,1309.2 1557.7,1309.7 1558.3,1309.1 1558.8,1307.4 1559.4,1308.3 1560,1308.9 1560.6,1308.8 1561.2,1307.8 1561.7,1307.8 1562.3,1309.1 1562.9,1307.4 1563.5,1309.4 1564,1308.4 1564.6,1308.5 1565.2,1307.3 1565.8,1307.8 1566.4,1308.7 1566.9,1307.2 1567.5,1309.7 1568.1,1307.1 1568.7,1307.2 1569.2,1308.1 1569.8,1308.4 1570.4,1308.5 1571,1307.7 1571.5,1307.8 1572.1,1307.7 1572.7,1307.4 1573.3,1305.9 1573.9,1308.4 1574.4,1307.9 1575,1307.7 1575.6,1307.1 1576.2,1307.7 1576.7,1307.7 1577.3,1307.7 1577.9,1308.7 1578.5,1306.8 1579.1,1308.3 1579.6,1307.5 1580.2,1308.1 1580.8,1309.5 1581.4,1307.7 1581.9,1308.5 1582.5,1308.2 1583.1,1309.3 1583.7,1307.6 1584.2,1306.8 1584.8,1308 1585.4,1307.1 1586,1306.7 1586.6,1307.3 1587.1,1305.5 1587.7,1305.4 1588.3,1305.1 1588.9,1304.4 1589.4,1302.9 1590,1303 1590.6,1302.9 1591.2,1299.9 1591.8,1300.3 1592.3,1296.2 1592.9,1297.3 1593.5,1294.4 1594.1,1293.1 1594.6,1290.8 1595.2,1288.4 1595.8,1285.4 1596.4,1282.9 1597,1279.9 1597.5,1272.7 1596,1271.7 1596.7,1249.6 1597.3,1222 1598.5,1171 1599,1129 1598.5,1090.3 1600,988 1601.1,931.4 1601.8,965.9 1601.8,1053.8 1605.5,1108 1606.2,1130 1606,1154.4 1606.9,1181 1607.3,1222 1608.4,1255 1609.7,1279.2 1610.2,1287.1 1610.8,1290.5 1611.4,1292 1612,1294.2 1612.5,1294.9 1613.1,1296.8 1613.7,1297.2 1614.3,1299.3 1614.8,1300.3 1615.4,1302 1616,1302.5 1616.6,1303.2 1617.2,1302.9 1617.7,1303.5 1618.3,1303.8 1618.9,1304.6 1619.5,1303.4 1620,1305.6 1620.6,1304.2 1621.2,1305.2 1621.8,1305.8 1622.4,1305.6 1622.9,1307.4 1623.5,1306.3 1624.1,1307.6 1624.7,1307.5 1625.2,1306.4 1625.8,1307.2 1626.4,1308 1627,1306.9 1627.5,1307.3 1628.1,1306.9 1628.7,1307.5 1629.3,1307.3 1629.9,1307.7 1630.4,1308.4 1631,1308.7 1631.6,1307.9 1632.2,1308 1632.7,1308.5 1633.3,1307.8 1633.9,1307.3 1634.5,1308.9 1635.1,1307.4 1635.6,1308.8 1636.2,1307.5 1636.8,1309.6 1637.4,1307.5 1637.9,1308.9 1638.5,1309.4 1639.1,1307.7 1639.7,1309.5 1640.2,1307.9 1640.8,1307.2 1641.4,1309 1642,1309 1642.6,1308.4 1643.1,1306.8 1643.7,1308.6 1644.3,1308.4 1644.9,1308.4 1645.4,1308.4 1646,1307.4 1646.6,1308.3 1647.2,1310 1647.8,1309.8 1648.3,1308.5 1648.9,1308.2 1649.5,1309.1 1650.1,1309.6 1650.6,1309.3 1651.2,1308 1651.8,1308.9 1652.4,1308.9 1652.9,1309.9 1653.5,1309.7 1654.1,1309.3 1654.7,1309.8 1655.3,1308.6 1655.8,1310 1656.4,1308.6 1657,1309.2 1657.6,1309.6 1658.1,1308.3 1658.7,1308.4 1659.3,1307.7 1659.9,1309.1 1660.5,1308.9 1661,1308.7 1661.6,1309.3 1662.2,1307.5 1662.8,1309 1663.3,1309.1 1663.9,1308.8 1664.5,1309.6 1665.1,1310.3 1665.6,1308.7 1666.2,1308.4 1666.8,1308.6 1667.4,1309.1 1668,1309.5 1668.5,1308.4 1669.1,1309.8 1669.7,1308.3 1670.3,1309.7 1670.8,1309.4 1671.4,1309.4 1672,1310.6 1672.6,1308.9 1673.2,1309 1673.7,1309.4 1674.3,1309.7 1674.9,1308.1 1675.5,1309.3 1676,1308.6 1676.6,1309.5 1677.2,1310.1 1677.8,1309.1 1678.3,1309 1678.9,1309.2 1679.5,1307 1680.1,1309.6 1680.7,1309.5 1681.2,1309.2 1681.8,1308.8 1682.4,1308.6 1683,1309 1683.5,1310 1684.1,1309 1684.7,1310.1 1685.3,1307.2 1685.9,1308.7 1686.4,1309.3 1687,1309.1 1687.6,1307.9 1688.2,1308.6 1688.7,1310 1689.3,1308.1 1689.9,1308.3 1690.5,1308.3 1691.1,1308.7 1691.6,1309.5 1692.2,1309.5 1692.8,1307.6 1693.4,1310.1 1693.9,1308.6 1694.5,1308.6 1695.1,1310.2 1695.7,1309 1696.2,1308.1 1696.8,1308.5 1697.4,1308.5 1698,1308.3 1698.6,1308.7 1699.1,1309.6 1699.7,1309.2 1700.3,1308 1700.9,1311 1701.4,1308.2 1702,1309 1702.6,1309 1703.2,1309.5 1703.8,1308.7 1704.3,1309.2 1704.9,1310.4 1705.5,1309 1706.1,1308.1 1706.6,1309.1 1707.2,1308.3 1707.8,1308.6 1708.4,1309 1708.9,1309.1 1709.5,1308.6 1710.1,1309.4 1710.7,1308.6 1711.3,1307.8 1711.8,1309.4 1712.4,1308.5 1713,1309.6 1713.6,1308.2 1714.1,1309.1 1714.7,1308.9 1715.3,1306.7 1715.9,1307.6 1716.5,1307.8 1717,1309.6 1717.6,1307.2 1718.2,1309.2 1718.8,1309.3 1719.3,1308.9 1719.9,1309 1720.5,1308.1 1721.1,1308.4 1721.6,1308.6 1722.2,1308.7 1722.8,1308.8 1723.4,1308.2 1724,1307.8 1724.5,1307.8 1725.1,1308.5 1725.7,1307 1726.3,1307.2 1726.8,1307.8 1727.4,1307.6 1728,1307.8 1728.6,1306 1729.2,1307.6 1729.7,1307.6 1730.3,1308.3 1730.9,1306.3 1731.5,1307.4 1732,1307.9 1732.6,1307.9 1733.2,1308.3 1733.8,1308.1 1734.3,1306.5 1734.9,1307.6 1735.5,1306.8 1736.1,1306.4 1736.7,1308 1737.2,1306.3 1737.8,1306 1738.4,1306.2 1739,1305.7 1739.5,1306.9 1740.1,1306.3 1740.7,1306.8 1741.3,1305.9 1741.9,1305 1742.4,1305.8 1743,1304.2 1743.6,1303.8 1744.2,1303.6 1744.7,1303.2 1745.3,1303.5 1745.9,1301.6 1746.5,1301.7 1747,1300.8 1747.6,1299.2 1748.2,1298.4 1748.8,1297.8 1749.4,1296.9 1749.9,1295.4 1750.5,1294 1751.1,1292 1751.7,1289.9 1752.2,1289.1 1752.8,1286.5 1753.4,1284.6 1754,1283.4 1754.6,1280.8 1755.1,1280.1 1755.7,1278.1 1756.3,1275.9 1756.9,1271.9 1755.8,1268 1756.7,1247.2 1757.8,1217.3 1758.5,1165.3 1761,1101 1760,1072.4 1760,959.6 1760.9,880.4 1761.8,897.6 1762.4,994.5 1765.5,1081.2 1767.3,1100 1767.7,1149.8 1765,1169.7 1767.7,1207.3 1768.4,1246 1770.7,1277.6 1771.3,1281.8 1771.9,1284.8 1772.4,1288.4 1773,1292.2 1773.6,1293.2 1774.2,1295.4 1774.8,1296.9 1775.3,1297.7 1775.9,1297.3 1776.5,1300.1 1777.1,1301 1777.6,1301.6 1778.2,1301.5 1778.8,1303.4 1779.4,1302.8 1780,1302.8 1780.5,1303.1 1781.1,1304.1 1781.7,1303.3 1782.3,1303.6 1782.8,1306.1 1783.4,1305.9 1784,1306 1784.6,1306.4 1785.2,1306.1 1785.7,1304.6 1786.3,1306.9 1786.9,1307.1 1787.5,1306.7 1788,1305.1 1788.6,1307.5 1789.2,1307.7 1789.8,1306.5 1790.3,1307.1 1790.9,1307.6 1791.5,1307.1 1792.1,1308.1 1792.7,1307.4 1793.2,1307.9 1793.8,1307.6 1794.4,1306.5 1795,1306.9 1795.5,1309.9 1796.1,1308 1796.7,1308.8 1797.3,1308.7 1797.9,1309.2 1798.4,1308.4 1799,1307.6 1799.6,1308.1 1800.2,1306.7 1800.7,1308 1801.3,1308.9 1801.9,1306.7 1802.5,1308.4 1803,1308.9 1803.6,1309.3 1804.2,1307.7 1804.8,1307.9 1805.4,1307.1 1805.9,1307.7 1806.5,1308.9 1807.1,1310 1807.7,1307.7 1808.2,1309.6 1808.8,1308.9 1809.4,1308.3 1810,1310.2 1810.6,1306.8 1811.1,1308.6 1811.7,1308.9 1812.3,1310.3 1812.9,1310 1813.4,1310.4 1814,1308.9 1814.6,1309.5 1815.2,1309.8 1815.7,1309.2 1816.3,1309.1 1816.9,1308.7 1817.5,1308.6 1818.1,1308 1818.6,1310.3 1819.2,1308.6 1819.8,1307.4 1820.4,1309.1 1820.9,1308.9 1821.5,1309.1 1822.1,1310.3 1822.7,1308.9 1823.3,1308.8 1823.8,1308.5 1824.4,1309 1825,1308.7 1825.6,1309.2 1826.1,1311.2 1826.7,1309.3 1827.3,1308.4 1827.9,1310.5 1828.4,1309.7 1829,1309.7 1829.6,1309.6 1830.2,1309.7 1830.8,1309.6 1831.3,1310.2 1831.9,1309.9 1832.5,1310.1 1833.1,1308.8 1833.6,1309.2 1834.2,1308.6 1834.8,1309.9 1835.4,1309.8 1836,1308.9 1836.5,1309.6 1837.1,1311.1 1837.7,1310.1 1838.3,1308.4 1838.8,1309.2 1839.4,1309.7 1840,1309.2 1840.6,1309.5 1841.1,1310.1 1841.7,1309.5 1842.3,1308.5 1842.9,1309.8 1843.5,1309.2 1844,1309.3 1844.6,1308.8 1845.2,1308.1 1845.8,1308.1 1846.3,1308.5 1846.9,1307.7 1847.5,1306.1 1848.1,1308.3 1848.7,1306 1849.2,1305.5 1849.8,1305.6 1850.4,1302.7 1851,1304.6 1851.5,1302.5 1852.1,1303.1 1852.7,1302 1853.3,1302.6 1853.8,1302.7 1854.4,1302.9 1855,1301.9 1855.6,1302.6 1856.2,1304.1 1856.7,1305.5 1857.3,1304.5 1857.9,1305.7 1858.5,1305.9 1859,1306.6 1859.6,1307.4 1860.2,1306.1 1860.8,1307.8 1861.4,1307.9 1861.9,1308.2 1862.5,1308.1 1863.1,1308.4 1863.7,1308.4 1864.2,1308.5 1864.8,1311.2 1865.4,1310.6 1866,1309.4 1866.5,1310 1867.1,1308.8 1867.7,1307.4 1868.3,1308.1 1868.9,1309.6 1869.4,1310.5 1870,1309.5 1870.6,1308.8 1871.2,1309.3 1871.7,1308.8 1872.3,1308.5 1872.9,1309.3 1873.5,1309.2 1874.1,1308.9 1874.6,1308.9 1875.2,1308.8 1875.8,1309.7 1876.4,1310.5 1876.9,1309.4 1877.5,1311.2 1878.1,1308.4 1878.7,1309.7 1879.3,1308.7 1879.8,1309.4 1880.4,1309.6 1881,1310 1881.6,1310.4 1882.1,1309.2 1882.7,1308.7 1883.3,1309.4 1883.9,1309.8 1884.4,1309.1 1885,1310.2 1885.6,1310.8 1886.2,1308.5 1886.8,1309.8 1887.3,1310.3 1887.9,1308.2 1888.5,1309.7 1889.1,1309.4 1889.6,1308.6 1890.2,1310.6 1890.8,1309.8 1891.4,1309.3 1892,1309.9 1892.5,1310.1 1893.1,1310.2 1893.7,1310 1894.3,1309.9 1894.8,1308.8 1895.4,1309.3 1896,1309.7 1896.6,1307.6 1897.1,1311.2 1897.7,1309.4 1898.3,1308.9 1898.9,1308.3 1899.5,1309.8 1900,1309.7 1900.6,1309.2 1901.2,1309.3 1901.8,1309 1902.3,1309.1 1902.9,1309.6 1903.5,1309.2 1904.1,1310.2 1904.7,1309.6 1905.2,1309.8 1905.8,1310 1906.4,1310.6 1907,1310.1 1907.5,1309.8 1908.1,1309.6 1908.7,1309.1 1909.3,1309.4 1909.8,1310.2 1910.4,1309.8 1911,1309.4 1911.6,1308.7 1912.2,1308.6 1912.7,1309.9 1913.3,1310.4 1913.9,1310 1914.5,1308.7 1915,1309.5 1915.6,1309.9 1916.2,1309 1916.8,1309.9 1917.4,1309.5 1917.9,1309.1 1918.5,1308.8 1919.1,1310.3 1919.7,1310 1920.2,1309.1 1920.8,1309 1921.4,1310.4 1922,1310.1 1922.5,1309.5 1923.1,1310.9 1923.7,1309.5 1924.3,1308.9 1924.9,1310.5 1925.4,1309.6 1926,1310 1926.6,1309.7 1927.2,1309 1927.7,1308.9 1928.3,1309.6 1928.9,1310.8 1929.5,1309 1930.1,1310.7 1930.6,1309.9 1931.2,1308.9 1931.8,1309.9 1932.4,1310.1 1932.9,1309.1 1933.5,1308.2 1934.1,1310 1934.7,1308.9 1935.2,1310.1 1935.8,1308.3 1936.4,1309.6 1937,1309.2 1937.6,1308.7 1938.1,1309.6 1938.7,1309.9 1939.3,1309.3 1939.9,1308.9 1940.4,1309.9 1941,1308.5 1941.6,1310.1 1942.2,1310.1 1942.8,1311 1943.3,1310.4 1943.9,1310 1944.5,1310 1945.1,1309.8 1945.6,1308.8 1946.2,1310.8 1946.8,1310.1 1947.4,1309.6 1947.9,1308.9 1948.5,1310.9 1949.1,1310.2 1949.7,1308.9 1950.3,1310.3 1950.8,1311.2 1951.4,1309.8 1952,1310.1 1952.6,1309.5 1953.1,1309.3 1953.7,1310.6 1954.3,1312 1954.9,1309.9 1955.5,1309.7 1956,1310.4 1956.6,1309.6 1957.2,1310.3 1957.8,1310.4 1958.3,1309 1958.9,1309 1959.5,1309.7 1960.1,1310.4 1960.6,1310 1961.2,1310.7 1961.8,1308.8 1962.4,1310.2 1963,1309.3 1967.5,1187.6 1967.5,1190.5 1967.5,1194.1 1966.2,1213 1967.9,1217.5 1969,1244.2 1969.2,1266.6 1969.3,1278.1 1971.2,1283.2 1971.9,1288 1972.5,1292.8 1973,1297.5 1973.5,1302 1974,1306 1964.1,1309.9 1964.7,1310 1965.3,1309.1 1965.8,1309.6 1966.4,1309 1967,1310 1967.6,1309.2 1968.2,1309.4 1968.7,1310 1969.3,1309.3 1969.9,1310.6 1970.5,1309.3 1971,1310.4 1971.6,1310 1972.2,1309.1 1972.8,1309.7 1973.4,1309.2 1973.9,1309.6 1974.5,1309.6 1975.1,1311.1 1975.7,1309.5 1976.2,1311 1976.8,1310.2 1977.4,1308.9 1978,1308.1 1978.5,1310.3 1979.1,1308.4 1979.7,1310.4 1980.3,1310.6 1980.9,1310.1 1981.4,1309.7 1982,1309.7 1982.6,1310 1983.2,1309.6 1983.7,1309.5 1984.3,1309.6 1984.9,1310.7 1985.5,1309.4 1986.1,1310.1 1986.6,1309 1988,1310.3 1988,1289.5 1988,1284.2 1988,1279.2 1987.9,1274.5" fill="none" stroke="none" marker-start="url(#pt)" marker-mid="url(#pt)" marker-end="url(#pt)"/>
    <line x1="984.2" y1="1228" x2="984.2" y2="1300.5" stroke="#000000" stroke-width="3.6"/>
    <polyline id="calculated" points="141,1277.6 156,1289 163,1292.5 170,1295 185,1295.7 200,1296 341,1296.7 467,1299.2 477,1299.2 480,1299 482.5,1298.6 485,1297.9 486,1297.3 486.5,1296.9 487,1296 487.5,1294.2 488,1290.4 488.5,1283.2 489,1271.5 490.5,1219.7 491,1209.3 491.5,1208.3 492,1216.7 493.5,1265.6 494,1278.4 494.5,1287.2 495,1292.4 495.5,1295.2 496,1296.7 496.5,1297.4 497,1297.8 498,1298.3 499.5,1298.9 503.5,1299.7 510,1300.3 520.5,1300.8 540,1301.4 667,1304.3 762,1305.7 782.5,1305.8 792.5,1305.5 800,1305.1 805,1304.6 809,1303.9 812.5,1302.9 815,1301.8 816.5,1300.8 818,1299.5 819,1298.3 820,1296.9 821.5,1293.9 823,1289.6 824.5,1282.9 825.5,1275.7 826,1269.5 826.5,1258.6 827,1238.2 827.5,1201.8 828,1144.3 829.5,918.7 830,884.4 830.5,887.2 831,917.2 833.5,1169.6 834,1211.7 834.5,1241.6 835,1260.3 835.5,1271.1 836,1277.4 837,1284.5 838,1288.9 839,1292.2 840,1294.7 841,1296.7 842,1298.2 843,1299.4 844,1300.4 845.5,1301.5 847,1302.4 848.5,1303.1 850.5,1303.7 852.5,1304.3 858,1305.2 865,1305.8 874.5,1306.2 877,1306.1 878.5,1305.8 880,1304.8 882,1302.7 883,1302.2 883.5,1302.2 884.5,1302.7 887,1305 888,1305.7 889.5,1306.3 891,1306.4 905,1306.5 924,1306.2 936.5,1305.6 945.5,1304.9 950,1304.3 953.5,1303.6 956.5,1302.8 959.5,1301.7 962,1300.4 964,1299.1 966,1297.3 967.5,1295.6 969,1293.3 970.5,1290.4 972,1286.5 973,1283.1 974,1278.8 975,1273.3 976.5,1262 977.5,1251.3 978,1244.5 979,1225.1 979.5,1208.3 980,1179.8 980.5,1129.4 981,1044 981.5,912.9 983,355 983.5,231.1 984,190.1 984.5,225.2 985,307.6 988.5,1071.5 989,1140.9 989.5,1186.3 990,1213.9 990.5,1230.7 991,1241.6 991.5,1249.4 992,1255.6 993,1265.3 994,1272.6 995,1278.2 996,1282.6 997,1286.1 998,1288.9 999.5,1292.1 1001,1294.6 1002.5,1296.5 1004,1298 1005.5,1299.2 1007,1300 1008,1300.2 1009,1299.9 1009.5,1299.6 1012,1297.6 1012.5,1297.4 1013,1297.4 1013.5,1297.6 1014.5,1298.5 1016.5,1300.9 1017.5,1301.9 1018.5,1302.6 1019.5,1302.9 1020.5,1303 1021.5,1302.9 1023,1302.6 1024,1302.1 1025,1301.4 1025.5,1300.8 1026,1299.8 1026.5,1297.7 1027,1293.9 1027.5,1287.1 1028,1276.7 1029.5,1233.4 1030,1224.7 1030.5,1222.7 1031,1226.5 1031.5,1233.4 1033,1255.7 1034.5,1281.9 1035.5,1295 1036,1298.6 1036.5,1300.7 1037,1301.9 1038,1303.1 1039.5,1304 1041,1304.5 1042.5,1305 1046.5,1305.6 1052.5,1306.1 1061,1306.5 1083.5,1306.8 1160.5,1307.4 1176,1307.2 1181,1307 1185,1306.7 1188,1306.3 1190.5,1305.7 1192.5,1305 1194.5,1303.8 1195.5,1303 1196.5,1302 1197.5,1300.5 1198,1299.3 1198.5,1297.5 1199,1294 1199.5,1287.3 1200,1275.3 1200.5,1256 1202,1169.4 1202.5,1150.3 1203,1145.8 1203.5,1154.6 1204.5,1186.4 1205,1197.8 1206,1213.4 1206.5,1224.7 1208,1272.1 1208.5,1284 1209,1291.9 1209.5,1296.7 1210,1299.3 1210.5,1300.8 1211.5,1302.4 1212.5,1303.4 1214,1304.5 1215.5,1305.3 1218.5,1306.3 1222.5,1307 1227.5,1307.5 1235,1307.8 1248,1308.1 1269,1308.4 1311,1308.6 1313.5,1308.6 1315,1308.2 1316,1307.7 1318.5,1305.6 1319.5,1305.3 1320,1305.3 1321,1305.6 1325.5,1308.1 1327.5,1308.6 1330.5,1308.7 1333.5,1308.6 1335,1308.3 1337.5,1307.3 1339,1307.1 1340.5,1307.3 1345.5,1308.6 1347.5,1308.8 1351,1308.8 1421,1309 1450.5,1308.9 1467.5,1308.8 1476.5,1308.5 1483,1308.1 1487.5,1307.4 1490.5,1306.4 1492,1305.6 1493.5,1304.5 1494.5,1303.2 1495,1302.2 1495.5,1300.4 1496,1297.2 1496.5,1291.8 1497,1282.9 1497.5,1269.9 1499,1212.6 1499.5,1196.9 1500,1188.8 1500.5,1189.6 1501,1198.1 1502,1222.4 1502.5,1231 1503,1235.5 1504,1239.5 1504.5,1243.8 1505,1251.2 1506.5,1281.8 1507,1289.9 1507.5,1295.8 1508,1299.6 1508.5,1302 1509,1303.4 1509.5,1304.2 1510.5,1305.2 1512.5,1306.4 1515,1307.2 1518,1307.8 1521.5,1308.2 1526,1308.4 1539.5,1308.7 1560,1308.5 1567,1308.2 1573,1307.8 1577.5,1307.3 1581.5,1306.6 1584.5,1305.7 1587,1304.5 1588.5,1303.5 1589.5,1302.7 1591.5,1300.5 1592.5,1298.9 1593.5,1297 1595,1292.9 1596,1289.1 1596.5,1286.6 1597,1283 1597.5,1277.2 1598,1266.7 1598.5,1247.4 1599,1214.6 1599.5,1165.1 1601,976.4 1601.5,950.1 1602,961.2 1603.5,1108 1604,1135.8 1604.5,1140.1 1605.5,1115.1 1606,1111.9 1606.5,1125.4 1608,1222.9 1608.5,1249.8 1609,1268.2 1609.5,1279.4 1610,1285.8 1610.5,1289.5 1611,1292 1611.5,1293.8 1612.5,1296.5 1614,1299.5 1615,1300.9 1616,1302.1 1618,1303.8 1620.5,1305.3 1623.5,1306.4 1627.5,1307.2 1632,1307.8 1638,1308.3 1653,1308.9 1676,1309.1 1700,1309 1717,1308.6 1727,1308.1 1734.5,1307.2 1737.5,1306.7 1740,1306 1742,1305.4 1744,1304.5 1745.5,1303.6 1747,1302.5 1748.5,1301.1 1749.5,1299.9 1750.5,1298.4 1751.5,1296.6 1752.5,1294.3 1753.5,1291.4 1755,1285.5 1756.5,1276.8 1757.5,1267.2 1758,1258.2 1758.5,1242 1759,1212.3 1759.5,1162.7 1761,940.6 1761.5,906.5 1762,921.8 1763.5,1120.6 1764,1161 1764.5,1170.3 1765,1153.9 1766,1096.3 1766.5,1086.1 1767,1100.1 1768.5,1215 1769,1243.6 1769.5,1261.7 1770,1272.1 1770.5,1278 1771.5,1284.8 1772.5,1289.2 1773.5,1292.6 1774.5,1295.3 1776,1298.3 1777,1299.8 1778,1301 1780,1302.9 1782.5,1304.5 1785,1305.6 1788.5,1306.6 1792.5,1307.3 1797.5,1307.9 1804,1308.4 1823.5,1309.1 1841,1309.4 1844.5,1309.3 1846,1309 1847.5,1308.2 1848.5,1307.1 1850.5,1304.4 1851.5,1303.2 1852.5,1302.6 1853,1302.5 1854,1302.8 1855,1303.4 1862,1308.6 1863,1309.1 1864,1309.4 1866,1309.6 1900,1309.9 1988,1310.2" fill="none" stroke="#ff0000" stroke-width="11.3" stroke-linejoin="round" stroke-linecap="round"/>
    <polyline id="difference" points="141,1427.3 141.5,1427.5 142,1427.1 142.5,1427.2 143,1428.5 143.5,1427.5 144,1429.1 144.5,1428 145,1428.1 145.5,1427.9 146,1429.1 146.5,1429.2 147,1428.1 147.5,1428.4 148,1427.6 148.5,1428.6 149,1428.1 149.5,1427 150,1426.7 150.5,1427.8 151,1426.6 151.5,1428 152,1427 152.5,1426.8 153,1427.4 153.5,1426.9 154,1427.3 154.5,1426.5 155,1427.9 155.5,1426.8 156,1427.7 156.5,1426.4 157,1427.5 157.5,1427.8 158,1426.7 158.5,1426 159,1426.6 159.5,1427 160,1426.3 160.5,1426.8 161,1425.9 161.5,1426.6 162,1427 162.5,1426.5 163,1426.9 163.5,1425.9 164,1427.2 164.5,1425.9 165,1427.4 165.5,1427.5 166,1427.4 166.5,1426.7 167,1426.2 167.5,1426.3 168,1427.1 168.5,1426.6 169,1427.4 169.5,1425.9 170,1426.6 170.5,1427.3 171,1426.8 171.5,1426.7 172,1425.9 172.5,1426 173,1426.2 173.5,1427.3 174,1427.2 174.5,1426.1 175,1427.4 175.5,1425.8 176,1426.8 176.5,1427.5 177,1426.3 177.5,1427.4 178,1426.9 178.5,1425.8 179,1426.3 179.5,1426.5 180,1426.2 180.5,1427.1 181,1426 181.5,1427.1 182,1426.3 182.5,1425.9 183,1426.7 183.5,1425.9 184,1426.7 184.5,1427.1 185,1426.8 185.5,1426.6 186,1425.8 186.5,1426.7 187,1425.9 187.5,1426.9 188,1426 188.5,1426.8 189,1426.4 189.5,1426.4 190,1426.9 190.5,1426 191,1426 191.5,1427.4 192,1426.3 192.5,1427.3 193,1427.3 193.5,1426.6 194,1426 194.5,1425.9 195,1427.3 195.5,1426 196,1426.6 196.5,1426.7 197,1426 197.5,1426.6 198,1426 198.5,1426.7 199,1426.7 199.5,1426.4 200,1426.1 200.5,1426.5 201,1426.1 201.5,1426 202,1426.2 202.5,1427.3 203,1426.7 203.5,1427.4 204,1425.8 204.5,1427.5 205,1426.6 205.5,1427.2 206,1426.8 206.5,1427 207,1426.2 207.5,1427.1 208,1426 208.5,1426.2 209,1425.8 209.5,1426.5 210,1426.7 210.5,1426.3 211,1427.4 211.5,1425.9 212,1426.8 212.5,1426.2 213,1426.8 213.5,1427.2 214,1427 214.5,1425.9 215,1426.2 215.5,1426.8 216,1427.5 216.5,1425.8 217,1426.9 217.5,1427 218,1427.2 218.5,1426.4 219,1427.2 219.5,1426.6 220,1427.4 220.5,1425.8 221,1427.5 221.5,1426.5 222,1426.5 222.5,1425.9 223,1426.2 223.5,1427.1 224,1427 224.5,1426.1 225,1426.4 225.5,1426 226,1426.1 226.5,1426.2 227,1426.4 227.5,1427.5 228,1427.6 228.5,1427.2 229,1426.6 229.5,1426.7 230,1427.2 230.5,1427.4 231,1427.1 231.5,1426.9 232,1426.1 232.5,1426.9 233,1427.3 233.5,1427.2 234,1426 234.5,1427.1 235,1426.4 235.5,1426.1 236,1427.5 236.5,1427 237,1427.1 237.5,1426 238,1427.3 238.5,1427.5 239,1427.4 239.5,1427.1 240,1427.3 240.5,1427.2 241,1426.9 241.5,1426.6 242,1427.3 242.5,1427.2 243,1427.4 243.5,1426.3 244,1427.5 244.5,1426.8 245,1427.5 245.5,1426 246,1427.5 246.5,1427.2 247,1426.3 247.5,1427.3 248,1426.2 248.5,1426.2 249,1426.6 249.5,1426.2 250,1426.7 250.5,1427.4 251,1427 251.5,1427.1 252,1426.5 252.5,1427.2 253,1427.2 253.5,1427 254,1427.5 254.5,1427.3 255,1426.5 255.5,1426 256,1427 256.5,1427.3 257,1426.4 257.5,1426.9 258,1427.3 258.5,1427.2 259,1425.8 259.5,1426.7 260,1425.9 260.5,1426 261,1427.3 261.5,1426.6 262,1426.9 262.5,1426.6 263,1426.4 263.5,1426.2 264,1426.5 264.5,1427.3 265,1426.9 265.5,1426.4 266,1426 266.5,1426.3 267,1427.1 267.5,1426.6 268,1427 268.5,1427.3 269,1426.1 269.5,1427.1 270,1425.9 270.5,1427.3 271,1426.2 271.5,1426.3 272,1427.6 272.5,1426.5 273,1426.2 273.5,1427.4 274,1426.9 274.5,1427.4 275,1426.6 275.5,1426.7 276,1427.6 276.5,1426.8 277,1427.6 277.5,1426.2 278,1427.3 278.5,1426.1 279,1426.8 279.5,1425.8 280,1426.2 280.5,1427.5 281,1426.7 281.5,1427.3 282,1426.3 282.5,1426.5 283,1426 283.5,1426.8 284,1427.4 284.5,1426.8 285,1426.5 285.5,1427.5 286,1427.5 286.5,1427.1 287,1426 287.5,1427 288,1426.7 288.5,1427.6 289,1426.5 289.5,1427 290,1427 290.5,1426.5 291,1426.8 291.5,1427.1 292,1427.5 292.5,1426.8 293,1426.5 293.5,1427.6 294,1426 294.5,1427.4 295,1427.1 295.5,1426.9 296,1426.7 296.5,1427.2 297,1427.5 297.5,1427.2 298,1427.2 298.5,1425.9 299,1426.5 299.5,1426.1 300,1427.6 300.5,1427.5 301,1426.1 301.5,1426.9 302,1426.9 302.5,1426 303,1426.6 303.5,1427.2 304,1427 304.5,1426.4 305,1427.3 305.5,1426.4 306,1426.9 306.5,1426.6 307,1427.6 307.5,1427 308,1427.3 308.5,1427.1 309,1426.6 309.5,1427.6 310,1427.2 310.5,1427.1 311,1426.4 311.5,1426.2 312,1426.9 312.5,1427.4 313,1427.3 313.5,1426.5 314,1426.1 314.5,1426.8 315,1427.5 315.5,1426.2 316,1427.2 316.5,1426.2 317,1426.5 317.5,1426 318,1426.4 318.5,1426.6 319,1427.6 319.5,1427.6 320,1426.2 320.5,1426.5 321,1427.6 321.5,1426.3 322,1426.5 322.5,1426.7 323,1426.1 323.5,1426.4 324,1426.6 324.5,1426.6 325,1427.6 325.5,1426.4 326,1426.3 326.5,1427.5 327,1426.7 327.5,1427.4 328,1427.1 328.5,1427.3 329,1426.5 329.5,1426.2 330,1427.3 330.5,1426.8 331,1426.9 331.5,1427.1 332,1427.3 332.5,1426.4 333,1426.6 333.5,1427.6 334,1426.9 334.5,1426.4 335,1427 335.5,1426.4 336,1427.3 336.5,1426 337,1427.4 337.5,1426.9 338,1426.6 338.5,1427.6 339,1426.4 339.5,1426.4 340,1426 340.5,1426.9 341,1427.3 341.5,1427.1 342,1426.7 342.5,1427.4 343,1426.1 343.5,1426.5 344,1427.1 344.5,1427.7 345,1427.1 345.5,1427.2 346,1427.3 346.5,1426.6 347,1427.6 347.5,1427.3 348,1426.5 348.5,1426.6 349,1427.4 349.5,1426.6 350,1426.3 350.5,1427.5 351,1426.9 351.5,1426.9 352,1427.1 352.5,1427.6 353,1426.2 353.5,1426.5 354,1426.1 354.5,1426.7 355,1426.8 355.5,1427.5 356,1427.1 356.5,1427 357,1426.7 357.5,1427 358,1426.4 358.5,1427.5 359,1427.4 359.5,1427.5 360,1426.2 360.5,1427.2 361,1427.3 361.5,1426.8 362,1427.6 362.5,1427.6 363,1427.3 363.5,1427.4 364,1427.1 364.5,1427.5 365,1426.2 365.5,1427.2 366,1427.2 366.5,1427.1 367,1426.5 367.5,1426.1 368,1427 368.5,1427.4 369,1426.4 369.5,1426.3 370,1426.4 370.5,1426.1 371,1427.2 371.5,1427.7 372,1427.4 372.5,1426.6 373,1427.2 373.5,1426.1 374,1427.5 374.5,1426.6 375,1426 375.5,1427.1 376,1426.2 376.5,1426.5 377,1426.1 377.5,1426.8 378,1427 378.5,1427.4 379,1426 379.5,1427.5 380,1426.2 380.5,1426.4 381,1427.1 381.5,1426.6 382,1426.6 382.5,1427 383,1426.4 383.5,1427.4 384,1426.4 384.5,1427.5 385,1427.4 385.5,1426.9 386,1426 386.5,1427.4 387,1426 387.5,1426.9 388,1426.7 388.5,1426.1 389,1427.1 389.5,1427.3 390,1427 390.5,1426.7 391,1426.9 391.5,1427 392,1426.4 392.5,1427.5 393,1427.8 393.5,1427.4 394,1427.7 394.5,1426.6 395,1427.8 395.5,1426.1 396,1426.9 396.5,1426.2 397,1426.8 397.5,1427.2 398,1427.3 398.5,1426.8 399,1426.6 399.5,1426.3 400,1426.7 400.5,1426.5 401,1426.3 401.5,1427.3 402,1426.9 402.5,1426.8 403,1426.4 403.5,1427.3 404,1426.4 404.5,1426.5 405,1427 405.5,1427.3 406,1427.8 406.5,1427.4 407,1427.7 407.5,1427.7 408,1427.3 408.5,1427.3 409,1426.1 409.5,1426.4 410,1426 410.5,1427.6 411,1427.3 411.5,1427.1 412,1426.5 412.5,1426.7 413,1426.3 413.5,1427.2 414,1427.8 414.5,1426.6 415,1426.1 415.5,1426.3 416,1426.7 416.5,1427.6 417,1427.5 417.5,1426.8 418,1426.2 418.5,1426.2 419,1426.3 419.5,1427.4 420,1426.9 420.5,1427.8 421,1427.7 421.5,1427.5 422,1426.9 422.5,1427.5 423,1426.3 423.5,1426.2 424,1427 424.5,1426.9 425,1426.4 425.5,1426.5 426,1426.1 426.5,1427.7 427,1427.3 427.5,1427.7 428,1427.8 428.5,1426.8 429,1427.4 429.5,1426.7 430,1427.5 430.5,1427.5 431,1426.3 431.5,1426.1 432,1426.4 432.5,1427.1 433,1426.7 433.5,1426.1 434,1427.5 434.5,1427.5 435,1426.9 435.5,1426.1 436,1427.6 436.5,1427 437,1426.2 437.5,1426.6 438,1427.2 438.5,1427.6 439,1426.9 439.5,1427.2 440,1426.4 440.5,1426.5 441,1427.7 441.5,1426.7 442,1426.2 442.5,1427.1 443,1426.3 443.5,1426.4 444,1426.9 444.5,1427.1 445,1427.2 445.5,1427.3 446,1426.8 446.5,1426.2 447,1427.4 447.5,1426.2 448,1426.9 448.5,1426.8 449,1427.3 449.5,1427.3 450,1426.5 450.5,1427.2 451,1427.3 451.5,1426.9 452,1426.3 452.5,1427.7 453,1427.1 453.5,1426.2 454,1426.5 454.5,1427.8 455,1426.5 455.5,1426.8 456,1427.5 456.5,1427.5 457,1427.2 457.5,1427.4 458,1426.1 458.5,1426.2 459,1427.8 459.5,1427.5 460,1426.1 460.5,1426.2 461,1426.5 461.5,1427.7 462,1426.5 462.5,1427.3 463,1427.7 463.5,1427.2 464,1427.7 464.5,1426.6 465,1426.4 465.5,1426.1 466,1427.4 466.5,1426.3 467,1427.8 467.5,1427.4 468,1426.4 468.5,1427.5 469,1426.4 469.5,1427 470,1426.3 470.5,1427.5 471,1427.7 471.5,1427.7 472,1426.1 472.5,1427.6 473,1427.1 473.5,1427.6 474,1427 474.5,1427.2 475,1427.2 475.5,1427.5 476,1426.2 476.5,1426.2 477,1427.1 477.5,1426.6 478,1426.8 478.5,1426.1 479,1427.4 479.5,1426.1 480,1427.6 480.5,1427.6 481,1426.9 481.5,1426.3 482,1427.3 482.5,1426.5 483,1426.9 483.5,1425.9 484,1427.1 484.5,1425.9 485,1425.1 485.5,1424.3 486,1423.9 486.5,1422.7 487,1421.2 487.5,1419.9 488,1420.4 488.5,1420.2 489,1424 489.5,1426.6 490,1442.2 490.5,1449.9 491,1449.5 491.5,1448.1 492,1446 492.5,1440.6 493,1437.3 493.5,1434.5 494,1431.7 494.5,1428.9 495,1428.5 495.5,1428.5 496,1428.3 496.5,1428.4 497,1427.8 497.5,1427.5 498,1427.7 498.5,1427.6 499,1427.4 499.5,1426.2 500,1427.3 500.5,1427.6 501,1426.9 501.5,1427.7 502,1426.4 502.5,1427.8 503,1426.9 503.5,1427.4 504,1426.6 504.5,1426.6 505,1426.7 505.5,1426.7 506,1426.3 506.5,1426.9 507,1427.9 507.5,1427.3 508,1427.8 508.5,1427.5 509,1427.6 509.5,1427.9 510,1427.5 510.5,1426.6 511,1426.5 511.5,1426.8 512,1426.1 512.5,1426.5 513,1427.7 513.5,1427.8 514,1426.7 514.5,1427.5 515,1427.5 515.5,1427.7 516,1427.5 516.5,1427.1 517,1426.3 517.5,1427.6 518,1426.7 518.5,1427.2 519,1426.8 519.5,1427.1 520,1427.8 520.5,1426.4 521,1427.1 521.5,1427.3 522,1427.1 522.5,1427.8 523,1426.8 523.5,1427.7 524,1427.3 524.5,1427.8 525,1426.3 525.5,1426.5 526,1426.6 526.5,1427.7 527,1426.1 527.5,1426.6 528,1427.4 528.5,1427.9 529,1426.4 529.5,1426.9 530,1427.3 530.5,1427.3 531,1427.4 531.5,1427.5 532,1426.5 532.5,1426.6 533,1426.1 533.5,1427.3 534,1426.5 534.5,1426.6 535,1427.8 535.5,1427.3 536,1427.2 536.5,1427.3 537,1427.2 537.5,1427.4 538,1426.6 538.5,1426.2 539,1426.2 539.5,1426.1 540,1426.8 540.5,1426.4 541,1426.3 541.5,1427 542,1427.8 542.5,1427.3 543,1426.6 543.5,1427.5 544,1426.4 544.5,1426.3 545,1426.6 545.5,1426.8 546,1427.3 546.5,1426.9 547,1427.4 547.5,1426.3 548,1427.8 548.5,1426.7 549,1427.6 549.5,1426.2 550,1427.6 550.5,1426.5 551,1427.6 551.5,1427.5 552,1427.3 552.5,1426.6 553,1426.1 553.5,1426.4 554,1427.7 554.5,1426.4 555,1427.3 555.5,1427.2 556,1427.3 556.5,1426.4 557,1426.4 557.5,1426.3 558,1427.9 558.5,1426.8 559,1427.3 559.5,1427.1 560,1426.5 560.5,1426.2 561,1426.1 561.5,1427.6 562,1426.3 562.5,1427.8 563,1426.8 563.5,1427.4 564,1426.3 564.5,1427.5 565,1426.6 565.5,1426.8 566,1427 566.5,1426.3 567,1426.5 567.5,1427.5 568,1426.6 568.5,1426.8 569,1427.5 569.5,1426.5 570,1426.4 570.5,1426.5 571,1426.8 571.5,1426.8 572,1427.3 572.5,1426.9 573,1427.7 573.5,1426.2 574,1427.3 574.5,1427.6 575,1426.5 575.5,1426.2 576,1426.9 576.5,1426.3 577,1426.9 577.5,1427.4 578,1426.3 578.5,1426.3 579,1427 579.5,1426.4 580,1426.5 580.5,1426.9 581,1426.3 581.5,1426.2 582,1426.8 582.5,1426.9 583,1427.8 583.5,1427.1 584,1426.2 584.5,1426.5 585,1427.4 585.5,1427.1 586,1427.7 586.5,1427.8 587,1427.6 587.5,1426.3 588,1427.8 588.5,1427 589,1426.5 589.5,1426.4 590,1427.7 590.5,1426.5 591,1426.2 591.5,1426.6 592,1427.8 592.5,1426.9 593,1427.4 593.5,1426.2 594,1426.9 594.5,1426.7 595,1426.5 595.5,1427.3 596,1426.8 596.5,1426.3 597,1427.9 597.5,1427 598,1426.4 598.5,1426.1 599,1427.3 599.5,1427 600,1426.1 600.5,1426.9 601,1427.4 601.5,1427.1 602,1426.5 602.5,1427 603,1427.2 603.5,1427.3 604,1426.4 604.5,1427.5 605,1427.8 605.5,1427.4 606,1427.6 606.5,1426.8 607,1427.7 607.5,1426.4 608,1426.5 608.5,1427.2 609,1427.7 609.5,1426.2 610,1426.5 610.5,1426.2 611,1426.9 611.5,1426.4 612,1426.4 612.5,1427.4 613,1427.1 613.5,1427.8 614,1426.8 614.5,1427.3 615,1426.1 615.5,1427.8 616,1426.5 616.5,1427 617,1427 617.5,1427.8 618,1427 618.5,1427.9 619,1427.2 619.5,1426.5 620,1427.6 620.5,1426.5 621,1427.9 621.5,1426.9 622,1426.5 622.5,1427.8 623,1426.7 623.5,1426.8 624,1426.7 624.5,1427.3 625,1426.1 625.5,1426.8 626,1426.4 626.5,1427.6 627,1426.1 627.5,1427.2 628,1426.6 628.5,1426.9 629,1427.1 629.5,1427.4 630,1426.3 630.5,1426.5 631,1426.3 631.5,1427.8 632,1426.4 632.5,1426.3 633,1427 633.5,1427.1 634,1427.7 634.5,1426.2 635,1426.5 635.5,1426.4 636,1427.2 636.5,1426.9 637,1426.8 637.5,1427.7 638,1427.3 638.5,1427.6 639,1427.8 639.5,1426.6 640,1427.8 640.5,1426.8 641,1426.2 641.5,1427.7 642,1426.3 642.5,1426.1 643,1426.6 643.5,1426.6 644,1427.8 644.5,1427.7 645,1426.9 645.5,1427.1 646,1427.6 646.5,1427.6 647,1427.3 647.5,1427 648,1426.3 648.5,1426.5 649,1427.3 649.5,1427.2 650,1427.5 650.5,1427.7 651,1427.8 651.5,1426.4 652,1426.2 652.5,1427.7 653,1427.1 653.5,1426.4 654,1427.3 654.5,1426.6 655,1426.5 655.5,1426.8 656,1427 656.5,1427.3 657,1426.2 657.5,1427.4 658,1427.2 658.5,1426.9 659,1427.3 659.5,1427.5 660,1426.1 660.5,1427 661,1427.3 661.5,1427.4 662,1427.3 662.5,1426.4 663,1427.8 663.5,1427.5 664,1426.5 664.5,1426.9 665,1427.8 665.5,1426.5 666,1426.8 666.5,1427.8 667,1427.7 667.5,1426.5 668,1427.4 668.5,1426.7 669,1427.3 669.5,1427.5 670,1426.3 670.5,1426.5 671,1426.5 671.5,1426.6 672,1426.2 672.5,1426.3 673,1426.8 673.5,1426.9 674,1426.2 674.5,1427.1 675,1427.8 675.5,1427.1 676,1426.7 676.5,1427.4 677,1426.9 677.5,1426.4 678,1427 678.5,1426.1 679,1427.3 679.5,1426.4 680,1426.8 680.5,1427.8 681,1427.5 681.5,1427.6 682,1427.3 682.5,1427.2 683,1427.4 683.5,1427.8 684,1426.5 684.5,1427.5 685,1426.6 685.5,1426.6 686,1427.6 686.5,1427.2 687,1427.6 687.5,1427.7 688,1427.2 688.5,1426.5 689,1426.1 689.5,1427.1 690,1427.4 690.5,1426.6 691,1426.2 691.5,1426.1 692,1426.4 692.5,1427.4 693,1426.1 693.5,1426.5 694,1426.6 694.5,1427.4 695,1427.9 695.5,1426.1 696,1426.3 696.5,1427.8 697,1427.8 697.5,1426.4 698,1426.7 698.5,1427 699,1426.7 699.5,1426.9 700,1427 700.5,1426.6 701,1426.2 701.5,1426.3 702,1426.4 702.5,1426.3 703,1427.2 703.5,1427.4 704,1426.6 704.5,1427.5 705,1427.4 705.5,1426.7 706,1427 706.5,1426.4 707,1427.8 707.5,1427.1 708,1426.2 708.5,1426.4 709,1427.3 709.5,1426.8 710,1427.4 710.5,1426.5 711,1427.5 711.5,1427.5 712,1426.3 712.5,1427.2 713,1426.4 713.5,1427.4 714,1427.5 714.5,1427.5 715,1426.5 715.5,1426.3 716,1427.3 716.5,1427.1 717,1426.3 717.5,1426.4 718,1427.1 718.5,1426.3 719,1427.2 719.5,1426.5 720,1426.6 720.5,1426.9 721,1427.1 721.5,1427.4 722,1426.2 722.5,1427.4 723,1426.5 723.5,1426.6 724,1427.3 724.5,1427.3 725,1427.2 725.5,1427.7 726,1426.5 726.5,1426.7 727,1427.3 727.5,1426.6 728,1426.4 728.5,1426.5 729,1427.5 729.5,1427.6 730,1427.4 730.5,1427.8 731,1427.5 731.5,1426.7 732,1426.7 732.5,1427.4 733,1426.2 733.5,1427.2 734,1426.3 734.5,1426.2 735,1427 735.5,1426.4 736,1427.8 736.5,1427.7 737,1426.9 737.5,1426.5 738,1426.3 738.5,1427 739,1427 739.5,1426.8 740,1427.4 740.5,1427.1 741,1427.5 741.5,1426.3 742,1426.2 742.5,1426.8 743,1427 743.5,1426.6 744,1427.3 744.5,1426.5 745,1426.7 745.5,1427 746,1427.4 746.5,1427.5 747,1426.8 747.5,1426.9 748,1427.8 748.5,1427.8 749,1427.2 749.5,1426.3 750,1426.9 750.5,1427.2 751,1426.6 751.5,1426.2 752,1427.9 752.5,1427.7 753,1426.3 753.5,1426.9 754,1427.2 754.5,1426.6 755,1426.2 755.5,1427.5 756,1427.5 756.5,1426.9 757,1426.3 757.5,1426.8 758,1426.3 758.5,1427.8 759,1426.2 759.5,1426.6 760,1427.5 760.5,1426.3 761,1426.3 761.5,1426.2 762,1426.4 762.5,1427.1 763,1427.6 763.5,1426.4 764,1426.4 764.5,1427.5 765,1426.9 765.5,1426.7 766,1426.3 766.5,1426.5 767,1427.8 767.5,1426.3 768,1426.6 768.5,1427.4 769,1427.7 769.5,1427.7 770,1427 770.5,1427.8 771,1427.2 771.5,1426.6 772,1426.9 772.5,1427.4 773,1427.4 773.5,1426.3 774,1426.4 774.5,1427.8 775,1426.3 775.5,1427.6 776,1426.7 776.5,1426.5 777,1426.6 777.5,1426.9 778,1427.9 778.5,1426.4 779,1427.6 779.5,1426.7 780,1426.4 780.5,1427.4 781,1426.7 781.5,1426.4 782,1426.9 782.5,1427.6 783,1427.7 783.5,1427.1 784,1426.1 784.5,1427.5 785,1427.2 785.5,1427.7 786,1427.8 786.5,1426.7 787,1427.6 787.5,1427.6 788,1426.6 788.5,1426.8 789,1426.8 789.5,1426.7 790,1426.8 790.5,1426.3 791,1426.5 791.5,1427.7 792,1426.8 792.5,1427.2 793,1427.7 793.5,1427.5 794,1426.5 794.5,1427.8 795,1427.5 795.5,1427.9 796,1427.4 796.5,1427.5 797,1427.6 797.5,1426.6 798,1427.3 798.5,1426.8 799,1427.6 799.5,1426.3 800,1427.1 800.5,1426.7 801,1427.6 801.5,1426.7 802,1427.6 802.5,1427.6 803,1427.7 803.5,1426.4 804,1427.8 804.5,1427.4 805,1427.3 805.5,1427.3 806,1426.2 806.5,1427.7 807,1427.1 807.5,1426.9 808,1426.7 808.5,1427.5 809,1427.5 809.5,1427.7 810,1426.5 810.5,1426.7 811,1426.5 811.5,1426.3 812,1426.7 812.5,1426.1 813,1427.5 813.5,1426.5 814,1426.2 814.5,1426.2 815,1427.4 815.5,1426.5 816,1426.9 816.5,1426.8 817,1427.5 817.5,1427.8 818,1426.7 818.5,1427.2 819,1427.7 819.5,1426.9 820,1427.7 820.5,1427.1 821,1425.9 821.5,1426.6 822,1425.7 822.5,1424.5 823,1425 823.5,1425.1 824,1421 824.5,1417.4 825,1413.7 825.5,1411.7 826,1411.3 826.5,1410.5 827,1412.4 827.5,1420.8 828,1437.4 828.5,1452.9 829,1451.8 829.5,1453.2 830,1448.8 830.5,1442.5 831,1436.7 831.5,1434.2 832,1430.7 832.5,1428.5 833,1429.9 833.5,1431 834,1431.5 834.5,1431.7 835,1432.4 835.5,1434.3 836,1433.9 836.5,1432.1 837,1432.5 837.5,1431.9 838,1430.4 838.5,1429.8 839,1429.9 839.5,1429.8 840,1428 840.5,1428 841,1427.9 841.5,1428.5 842,1427.4 842.5,1428 843,1427.8 843.5,1427.9 844,1426.9 844.5,1428.2 845,1428.1 845.5,1427.2 846,1427.5 846.5,1426.4 847,1427.7 847.5,1427.1 848,1427.5 848.5,1427.7 849,1426.8 849.5,1427.8 850,1426.5 850.5,1426.1 851,1427 851.5,1427.7 852,1427.7 852.5,1427.8 853,1427 853.5,1427.8 854,1427.1 854.5,1426.4 855,1427.2 855.5,1427.5 856,1426.9 856.5,1427.2 857,1426.6 857.5,1426.6 858,1426.9 858.5,1427 859,1426.9 859.5,1426.3 860,1426.1 860.5,1426.7 861,1427.4 861.5,1427.4 862,1426.5 862.5,1426.6 863,1427 863.5,1426.4 864,1427.2 864.5,1427.7 865,1426.5 865.5,1427.2 866,1427.4 866.5,1427.4 867,1427.4 867.5,1427.4 868,1426.6 868.5,1427.6 869,1427.8 869.5,1426.2 870,1427.8 870.5,1426.9 871,1426.3 871.5,1426.2 872,1427.5 872.5,1427.3 873,1426.4 873.5,1426.9 874,1427.2 874.5,1427.9 875,1426.7 875.5,1427.1 876,1425.9 876.5,1425.5 877,1425.1 877.5,1425.2 878,1425.2 878.5,1424.3 879,1423.7 879.5,1423.5 880,1422.4 880.5,1421.8 881,1421.2 881.5,1420.7 882,1419.6 882.5,1420.2 883,1420.1 883.5,1421.2 884,1421.3 884.5,1423 885,1423 885.5,1423.5 886,1424.5 886.5,1424 887,1424.4 887.5,1424.6 888,1426 888.5,1426.8 889,1426.2 889.5,1426.4 890,1426.9 890.5,1426.7 891,1427.3 891.5,1426.8 892,1426.4 892.5,1427.7 893,1427.1 893.5,1426.1 894,1427.6 894.5,1427.4 895,1426.7 895.5,1427.2 896,1427.8 896.5,1426.8 897,1426.9 897.5,1426.6 898,1427.1 898.5,1427.3 899,1427.4 899.5,1427.8 900,1426.4 900.5,1426.8 901,1427.6 901.5,1427.5 902,1427.2 902.5,1427.3 903,1426.7 903.5,1427.8 904,1427.1 904.5,1426.8 905,1426.4 905.5,1426.3 906,1427.7 906.5,1427.5 907,1426.1 907.5,1426.7 908,1427 908.5,1427 909,1426.8 909.5,1427.7 910,1426.7 910.5,1427.1 911,1427.8 911.5,1427.3 912,1427 912.5,1426.7 913,1426.8 913.5,1427.2 914,1427.5 914.5,1426.6 915,1426.8 915.5,1426.8 916,1426.8 916.5,1427.7 917,1427.1 917.5,1426.6 918,1426.7 918.5,1427.6 919,1426.4 919.5,1427.3 920,1426.1 920.5,1426.4 921,1426.2 921.5,1427.6 922,1426.4 922.5,1426.5 923,1426.2 923.5,1426.6 924,1427.4 924.5,1427.4 925,1427.7 925.5,1427.8 926,1427.1 926.5,1427.8 927,1426.3 927.5,1427.8 928,1426.9 928.5,1426.4 929,1427.4 929.5,1427.6 930,1426.8 930.5,1426.3 931,1427.7 931.5,1427.5 932,1427.2 932.5,1427.9 933,1426.2 933.5,1426.2 934,1426.3 934.5,1426.1 935,1427.4 935.5,1427.2 936,1426.3 936.5,1426.4 937,1426.4 937.5,1427.2 938,1427.3 938.5,1427.8 939,1426.7 939.5,1427.9 940,1426.9 940.5,1426.8 941,1426.6 941.5,1426.5 942,1427.9 942.5,1427.9 943,1427.4 943.5,1426.2 944,1425.9 944.5,1425.6 945,1425.7 945.5,1426.2 946,1424.7 946.5,1425.3 947,1425.3 947.5,1423.9 948,1424.4 948.5,1424.8 949,1424.1 949.5,1423.7 950,1424.2 950.5,1423.5 951,1423.3 951.5,1423.6 952,1424.8 952.5,1424.9 953,1425.2 953.5,1424.9 954,1424.5 954.5,1424.9 955,1425.5 955.5,1426.4 956,1425.5 956.5,1427.2 957,1427.5 957.5,1427 958,1426.1 958.5,1427.5 959,1426.8 959.5,1427.3 960,1427.1 960.5,1427.4 961,1426.8 961.5,1427.8 962,1427.8 962.5,1427.8 963,1427.2 963.5,1426.7 964,1426.8 964.5,1426.6 965,1427.7 965.5,1427.5 966,1427.5 966.5,1427.3 967,1427.4 967.5,1426.6 968,1425.7 968.5,1426.2 969,1425.1 969.5,1425.4 970,1424.4 970.5,1425.4 971,1424.5 971.5,1423.8 972,1424.8 972.5,1421.5 973,1421.2 973.5,1419.1 974,1416.2 974.5,1415.5 975,1412.2 975.5,1408.1 976,1402.9 976.5,1397.9 977,1397 977.5,1394.8 978,1396 978.5,1394.8 979,1395.1 979.5,1394.8 980,1396.2 980.5,1395.4 981,1406.8 981.5,1419.6 982,1461.9 982.5,1461.8 983,1460.8 983.5,1437.9 984,1415.4 984.5,1397.1 985,1396 985.5,1393.5 986,1391.8 986.5,1367.8 987,1362.8 987.5,1368.9 988,1392.3 988.5,1395 989,1397.7 989.5,1400 990,1407.1 990.5,1416.9 991,1421.8 991.5,1427.8 992,1430 992.5,1429.5 993,1430.7 993.5,1429.8 994,1430.8 994.5,1429.8 995,1431.6 995.5,1431 996,1431.4 996.5,1430.4 997,1431.4 997.5,1431 998,1430.9 998.5,1432 999,1430.6 999.5,1431.5 1000,1430.9 1000.5,1432.3 1001,1432.5 1001.5,1431 1002,1431.9 1002.5,1431.9 1003,1432.2 1003.5,1432.1 1004,1431.2 1004.5,1432.1 1005,1430.6 1005.5,1430.3 1006,1431.4 1006.5,1430 1007,1429.9 1007.5,1430.3 1008,1429.9 1008.5,1429.4 1009,1430.6 1009.5,1429.6 1010,1430 1010.5,1428.9 1011,1430 1011.5,1428.7 1012,1429.8 1012.5,1429.1 1013,1429.7 1013.5,1429.2 1014,1428.8 1014.5,1428.6 1015,1429 1015.5,1428.2 1016,1427.4 1016.5,1428.8 1017,1428.5 1017.5,1428.2 1018,1428.2 1018.5,1427.1 1019,1427.4 1019.5,1428.3 1020,1428.7 1020.5,1428.9 1021,1427.7 1021.5,1428.9 1022,1428.8 1022.5,1428.8 1023,1428.6 1023.5,1428.7 1024,1429.5 1024.5,1429.8 1025,1429.6 1025.5,1430.5 1026,1431.6 1026.5,1432.8 1027,1433.2 1027.5,1433.2 1028,1435.3 1028.5,1435.1 1029,1436.9 1029.5,1437.3 1030,1435.8 1030.5,1436.5 1031,1437.2 1031.5,1436.2 1032,1436.2 1032.5,1435 1033,1433.7 1033.5,1433.3 1034,1432.4 1034.5,1431.9 1035,1431.8 1035.5,1430.9 1036,1430.8 1036.5,1430 1037,1429.2 1037.5,1429.9 1038,1429 1038.5,1428.6 1039,1428.9 1039.5,1428.2 1040,1427.3 1040.5,1427.5 1041,1426.6 1041.5,1427.8 1042,1426.5 1042.5,1427.9 1043,1426.2 1043.5,1426.1 1044,1427.1 1044.5,1426.5 1045,1427 1045.5,1426.3 1046,1427.6 1046.5,1427.3 1047,1427.3 1047.5,1427.8 1048,1427.9 1048.5,1427.3 1049,1427.4 1049.5,1426.1 1050,1426.2 1050.5,1426.9 1051,1427.8 1051.5,1426.7 1052,1427.1 1052.5,1426.1 1053,1426.8 1053.5,1427.7 1054,1427.2 1054.5,1427.6 1055,1426.1 1055.5,1426.5 1056,1426.4 1056.5,1427.6 1057,1426.3 1057.5,1427.8 1058,1426.6 1058.5,1427.7 1059,1427 1059.5,1426.7 1060,1427.8 1060.5,1426.8 1061,1427.4 1061.5,1426.2 1062,1427.6 1062.5,1427.9 1063,1426.3 1063.5,1427.4 1064,1426.6 1064.5,1426.4 1065,1426.8 1065.5,1427.3 1066,1427.8 1066.5,1427.9 1067,1427.9 1067.5,1427.2 1068,1427.3 1068.5,1426.4 1069,1427.4 1069.5,1427.1 1070,1426.7 1070.5,1427.7 1071,1426.6 1071.5,1426.4 1072,1426.4 1072.5,1426.4 1073,1427.2 1073.5,1427.5 1074,1426.4 1074.5,1427 1075,1427.1 1075.5,1427.1 1076,1426.8 1076.5,1427.1 1077,1426.1 1077.5,1426.2 1078,1426.9 1078.5,1426.5 1079,1427.5 1079.5,1426.5 1080,1427.6 1080.5,1426.5 1081,1426.3 1081.5,1427 1082,1426.8 1082.5,1426.7 1083,1427.5 1083.5,1426.5 1084,1427.3 1084.5,1427.6 1085,1426.9 1085.5,1427 1086,1427.8 1086.5,1427.2 1087,1426.4 1087.5,1426.2 1088,1426.2 1088.5,1426.7 1089,1426.3 1089.5,1427.3 1090,1426.9 1090.5,1426.7 1091,1427 1091.5,1427.8 1092,1426.5 1092.5,1426.4 1093,1426.6 1093.5,1426.7 1094,1427.7 1094.5,1427.4 1095,1426.9 1095.5,1426.4 1096,1426.2 1096.5,1426.3 1097,1427.6 1097.5,1427.3 1098,1426.4 1098.5,1427.2 1099,1426.2 1099.5,1427 1100,1426.7 1100.5,1426.3 1101,1427.4 1101.5,1427.4 1102,1427 1102.5,1426.4 1103,1427.3 1103.5,1426.9 1104,1427.3 1104.5,1426.3 1105,1427.7 1105.5,1426.1 1106,1426.5 1106.5,1426.8 1107,1426.5 1107.5,1426.3 1108,1427.3 1108.5,1427.9 1109,1426.7 1109.5,1426.6 1110,1427.3 1110.5,1426.5 1111,1426.8 1111.5,1427.3 1112,1426.9 1112.5,1426.4 1113,1426.2 1113.5,1427.1 1114,1427.9 1114.5,1427.8 1115,1426.3 1115.5,1427 1116,1427 1116.5,1426.4 1117,1427.3 1117.5,1427 1118,1427.6 1118.5,1426.6 1119,1427.8 1119.5,1427.6 1120,1427 1120.5,1426.4 1121,1427 1121.5,1426.3 1122,1427.3 1122.5,1427.4 1123,1427.1 1123.5,1427.9 1124,1426.2 1124.5,1427.4 1125,1427.5 1125.5,1426.3 1126,1426.7 1126.5,1426.2 1127,1427.1 1127.5,1427.4 1128,1426.7 1128.5,1427.4 1129,1426.8 1129.5,1427.4 1130,1426.6 1130.5,1427.9 1131,1426.9 1131.5,1426.1 1132,1426.3 1132.5,1427.4 1133,1427.7 1133.5,1427.2 1134,1426.4 1134.5,1427.7 1135,1427.4 1135.5,1426.3 1136,1426.8 1136.5,1427.3 1137,1426.1 1137.5,1426.2 1138,1426.7 1138.5,1427.7 1139,1427.9 1139.5,1426.7 1140,1427.7 1140.5,1427.5 1141,1427.7 1141.5,1427.2 1142,1427.8 1142.5,1427.3 1143,1427.8 1143.5,1427.1 1144,1426.5 1144.5,1427 1145,1427 1145.5,1426.7 1146,1426.8 1146.5,1427 1147,1427.2 1147.5,1426.5 1148,1426.6 1148.5,1427 1149,1427 1149.5,1426.9 1150,1427.3 1150.5,1426.4 1151,1427.1 1151.5,1426.6 1152,1427.5 1152.5,1427.4 1153,1427.5 1153.5,1427 1154,1426.5 1154.5,1427.8 1155,1427 1155.5,1426.8 1156,1426.6 1156.5,1426.8 1157,1427.4 1157.5,1427.6 1158,1427 1158.5,1427.4 1159,1426.5 1159.5,1426.9 1160,1426.7 1160.5,1426.7 1161,1426.7 1161.5,1427.5 1162,1427.4 1162.5,1426.5 1163,1426.5 1163.5,1427.5 1164,1427.3 1164.5,1427.3 1165,1427.2 1165.5,1427.3 1166,1426.6 1166.5,1426.2 1167,1426.7 1167.5,1426.2 1168,1427.8 1168.5,1427 1169,1427.3 1169.5,1427.8 1170,1427.5 1170.5,1426.5 1171,1426.7 1171.5,1426.3 1172,1427.5 1172.5,1427.4 1173,1427 1173.5,1426.8 1174,1426.6 1174.5,1427 1175,1427.4 1175.5,1427.7 1176,1427.6 1176.5,1427.7 1177,1426.9 1177.5,1426.9 1178,1426.7 1178.5,1427.9 1179,1426.4 1179.5,1426.4 1180,1426.6 1180.5,1427.8 1181,1427.6 1181.5,1426.7 1182,1427.6 1182.5,1427.7 1183,1426.9 1183.5,1426.4 1184,1427.5 1184.5,1426.8 1185,1426.3 1185.5,1427.7 1186,1426.9 1186.5,1426.8 1187,1427.2 1187.5,1426.6 1188,1426.1 1188.5,1426.7 1189,1426.5 1189.5,1425.7 1190,1426.2 1190.5,1426.8 1191,1425.8 1191.5,1426.3 1192,1426.1 1192.5,1425.2 1193,1424.7 1193.5,1425.7 1194,1425.5 1194.5,1424.8 1195,1424.5 1195.5,1425.1 1196,1424.7 1196.5,1423 1197,1423.2 1197.5,1422.6 1198,1421.7 1198.5,1420.7 1199,1420.7 1199.5,1420.8 1200,1418.5 1200.5,1416.2 1201,1413.3 1201.5,1411.3 1202,1409.3 1202.5,1408.1 1203,1408.1 1203.5,1409 1204,1408.1 1204.5,1412 1205,1413 1205.5,1416.4 1206,1417.7 1206.5,1420.7 1207,1420.9 1207.5,1420.9 1208,1422.9 1208.5,1423.6 1209,1423.2 1209.5,1424.7 1210,1424.8 1210.5,1426.4 1211,1424.8 1211.5,1425.6 1212,1425.4 1212.5,1426.3 1213,1426.7 1213.5,1426.9 1214,1426.5 1214.5,1426.4 1215,1427.3 1215.5,1426.2 1216,1426.6 1216.5,1427.5 1217,1426.9 1217.5,1427.9 1218,1426.3 1218.5,1426.9 1219,1426.5 1219.5,1426.1 1220,1426.3 1220.5,1426.3 1221,1426.8 1221.5,1426.9 1222,1427 1222.5,1426.6 1223,1427.4 1223.5,1427 1224,1427.9 1224.5,1426.4 1225,1427 1225.5,1427 1226,1426.8 1226.5,1427.7 1227,1426.5 1227.5,1427.7 1228,1426.7 1228.5,1426.7 1229,1427.2 1229.5,1427.1 1230,1426.6 1230.5,1426.3 1231,1427.8 1231.5,1426.8 1232,1426.3 1232.5,1427.3 1233,1427.1 1233.5,1426.7 1234,1426.7 1234.5,1427.6 1235,1426.7 1235.5,1426.9 1236,1427.8 1236.5,1426.7 1237,1426.8 1237.5,1426.4 1238,1427.3 1238.5,1427.3 1239,1426.9 1239.5,1426.8 1240,1426.5 1240.5,1427.5 1241,1426.9 1241.5,1427.6 1242,1426.8 1242.5,1427.4 1243,1426.2 1243.5,1426.5 1244,1427.8 1244.5,1427.3 1245,1427.3 1245.5,1427 1246,1427 1246.5,1426.5 1247,1426.4 1247.5,1427.3 1248,1427.3 1248.5,1426.6 1249,1427.3 1249.5,1426.3 1250,1427.2 1250.5,1426.4 1251,1427 1251.5,1426.7 1252,1427.1 1252.5,1426.3 1253,1427 1253.5,1427.2 1254,1426.3 1254.5,1426.7 1255,1427.3 1255.5,1427.1 1256,1427.2 1256.5,1427.5 1257,1427.1 1257.5,1426.5 1258,1426.9 1258.5,1427.6 1259,1427.1 1259.5,1427.5 1260,1426.8 1260.5,1426.9 1261,1427.8 1261.5,1427.6 1262,1427.3 1262.5,1426.3 1263,1427.2 1263.5,1426.2 1264,1427.8 1264.5,1427.8 1265,1427.4 1265.5,1426.6 1266,1427.6 1266.5,1426.4 1267,1427.6 1267.5,1427 1268,1426.1 1268.5,1427.7 1269,1426.9 1269.5,1427.6 1270,1427.3 1270.5,1427.1 1271,1427.7 1271.5,1426.5 1272,1427.7 1272.5,1426.7 1273,1426.1 1273.5,1426.7 1274,1426.2 1274.5,1426.2 1275,1427.2 1275.5,1426.3 1276,1426.4 1276.5,1426.6 1277,1426.6 1277.5,1427.8 1278,1427.7 1278.5,1427.7 1279,1427.9 1279.5,1426.9 1280,1427.5 1280.5,1426.6 1281,1427.8 1281.5,1427.6 1282,1427.4 1282.5,1426.5 1283,1426.3 1283.5,1427.8 1284,1427.1 1284.5,1427.2 1285,1427.7 1285.5,1426.4 1286,1427.4 1286.5,1426.9 1287,1427.5 1287.5,1426.9 1288,1426.5 1288.5,1427.8 1289,1426.6 1289.5,1427.4 1290,1427.6 1290.5,1426.5 1291,1427.4 1291.5,1426.8 1292,1426.5 1292.5,1426.5 1293,1427.8 1293.5,1426.8 1294,1427 1294.5,1427 1295,1426.1 1295.5,1427.5 1296,1427.4 1296.5,1427.7 1297,1426.7 1297.5,1426.5 1298,1426.7 1298.5,1427.4 1299,1427.3 1299.5,1426.8 1300,1427 1300.5,1426.4 1301,1427.8 1301.5,1426.9 1302,1427 1302.5,1427.5 1303,1426.5 1303.5,1427.4 1304,1426.7 1304.5,1427.6 1305,1426.3 1305.5,1426.6 1306,1427.2 1306.5,1427 1307,1426.8 1307.5,1427.1 1308,1426.5 1308.5,1426.9 1309,1426.1 1309.5,1427.5 1310,1426.6 1310.5,1427.6 1311,1427.1 1311.5,1427.2 1312,1427.2 1312.5,1426.3 1313,1427.5 1313.5,1426.6 1314,1427.7 1314.5,1427.5 1315,1427.3 1315.5,1427.6 1316,1426.9 1316.5,1427.3 1317,1427.8 1317.5,1426.4 1318,1426.3 1318.5,1426.8 1319,1427 1319.5,1426.4 1320,1426.5 1320.5,1427.7 1321,1426.8 1321.5,1426.4 1322,1426.4 1322.5,1427.1 1323,1426.4 1323.5,1427 1324,1427.1 1324.5,1426.9 1325,1427 1325.5,1427.6 1326,1426.1 1326.5,1427.8 1327,1426.5 1327.5,1426.2 1328,1427.5 1328.5,1427.1 1329,1427.1 1329.5,1426.5 1330,1427.5 1330.5,1426.7 1331,1427.4 1331.5,1426.5 1332,1427.1 1332.5,1427.3 1333,1426.8 1333.5,1427 1334,1426.2 1334.5,1427.3 1335,1427.3 1335.5,1426.4 1336,1427.1 1336.5,1427.4 1337,1426.3 1337.5,1427.6 1338,1427.7 1338.5,1426.2 1339,1426.5 1339.5,1426.3 1340,1426.6 1340.5,1426.3 1341,1427 1341.5,1426.6 1342,1426.6 1342.5,1426.9 1343,1426.8 1343.5,1427.5 1344,1427.4 1344.5,1426.3 1345,1426.5 1345.5,1426.1 1346,1426.7 1346.5,1426.3 1347,1427.4 1347.5,1427.5 1348,1427.9 1348.5,1426.5 1349,1426.2 1349.5,1427.5 1350,1426.8 1350.5,1427.8 1351,1426.8 1351.5,1426.7 1352,1426.2 1352.5,1427.8 1353,1427 1353.5,1426.9 1354,1426.9 1354.5,1427.5 1355,1427.6 1355.5,1427 1356,1426.4 1356.5,1426.8 1357,1427.7 1357.5,1426.8 1358,1427.3 1358.5,1427.1 1359,1426.9 1359.5,1427.1 1360,1426.5 1360.5,1427.1 1361,1427.7 1361.5,1426.2 1362,1426.8 1362.5,1427.7 1363,1427.9 1363.5,1426.1 1364,1427.2 1364.5,1427.2 1365,1427.6 1365.5,1426.9 1366,1426.3 1366.5,1426.6 1367,1427.4 1367.5,1427.4 1368,1426.5 1368.5,1427.3 1369,1427.3 1369.5,1427.3 1370,1426.1 1370.5,1426.9 1371,1426.7 1371.5,1427.2 1372,1426.7 1372.5,1426.3 1373,1427.3 1373.5,1426.6 1374,1427.5 1374.5,1426.7 1375,1427.1 1375.5,1427.6 1376,1426.3 1376.5,1427.4 1377,1426.2 1377.5,1427.8 1378,1426.1 1378.5,1427.4 1379,1426.8 1379.5,1426.4 1380,1426.8 1380.5,1427 1381,1426.8 1381.5,1426.3 1382,1427 1382.5,1426.6 1383,1427.8 1383.5,1426.8 1384,1426.9 1384.5,1426.5 1385,1427.8 1385.5,1426.7 1386,1427.3 1386.5,1427.6 1387,1426.8 1387.5,1427.5 1388,1426.6 1388.5,1426.3 1389,1426.2 1389.5,1426.9 1390,1427.7 1390.5,1426.5 1391,1426.9 1391.5,1427.5 1392,1426.6 1392.5,1426.4 1393,1427 1393.5,1426.9 1394,1427.8 1394.5,1427.7 1395,1426.5 1395.5,1427.1 1396,1426.8 1396.5,1426.2 1397,1426.9 1397.5,1427.7 1398,1426.6 1398.5,1427.2 1399,1427.4 1399.5,1426.2 1400,1427.8 1400.5,1426.3 1401,1426.6 1401.5,1427.4 1402,1426.1 1402.5,1426.8 1403,1426.3 1403.5,1427 1404,1426.1 1404.5,1426.4 1405,1426.5 1405.5,1426.2 1406,1426.3 1406.5,1426.5 1407,1427 1407.5,1426.3 1408,1427.6 1408.5,1426.9 1409,1426.6 1409.5,1426.5 1410,1427.6 1410.5,1426.2 1411,1427.4 1411.5,1426.3 1412,1427.8 1412.5,1426.8 1413,1427.2 1413.5,1427.7 1414,1426.3 1414.5,1426.2 1415,1427.3 1415.5,1427.2 1416,1427.4 1416.5,1426.6 1417,1427 1417.5,1426.4 1418,1426.9 1418.5,1426.6 1419,1427.2 1419.5,1426.6 1420,1426.6 1420.5,1427.3 1421,1426.3 1421.5,1427.5 1422,1427 1422.5,1426.5 1423,1426.3 1423.5,1427 1424,1427 1424.5,1427.4 1425,1426.8 1425.5,1426.8 1426,1427.7 1426.5,1426.6 1427,1427.9 1427.5,1427.7 1428,1427.9 1428.5,1427.8 1429,1426.6 1429.5,1427.6 1430,1427.2 1430.5,1426.5 1431,1427.9 1431.5,1427.3 1432,1427.6 1432.5,1427.1 1433,1426.2 1433.5,1427.7 1434,1426.4 1434.5,1426.6 1435,1427.2 1435.5,1426.4 1436,1426.9 1436.5,1427.4 1437,1426.3 1437.5,1427.3 1438,1426.3 1438.5,1427 1439,1427.3 1439.5,1427.3 1440,1426.2 1440.5,1426.4 1441,1427.8 1441.5,1426.8 1442,1426.9 1442.5,1426.8 1443,1427.4 1443.5,1427.4 1444,1427.3 1444.5,1426.8 1445,1427.1 1445.5,1427 1446,1426.4 1446.5,1427.8 1447,1427.8 1447.5,1427.5 1448,1427.9 1448.5,1426.9 1449,1427.6 1449.5,1426.5 1450,1427.4 1450.5,1427.4 1451,1427.8 1451.5,1427.6 1452,1427.7 1452.5,1426.6 1453,1427.5 1453.5,1427 1454,1426.7 1454.5,1426.8 1455,1427.5 1455.5,1427.6 1456,1427.6 1456.5,1427.3 1457,1426.4 1457.5,1426.4 1458,1427.1 1458.5,1426.5 1459,1426.7 1459.5,1426.3 1460,1426.4 1460.5,1427.4 1461,1426.5 1461.5,1427.6 1462,1426.7 1462.5,1427.6 1463,1426.6 1463.5,1426.6 1464,1426.8 1464.5,1426.1 1465,1426.9 1465.5,1426.8 1466,1426.1 1466.5,1427.7 1467,1426.8 1467.5,1426.1 1468,1427.8 1468.5,1426.5 1469,1426.6 1469.5,1426.1 1470,1426.3 1470.5,1427.4 1471,1427.1 1471.5,1427 1472,1426.5 1472.5,1426.6 1473,1427.8 1473.5,1426.8 1474,1427.9 1474.5,1427.7 1475,1426.3 1475.5,1427.6 1476,1426.1 1476.5,1427.4 1477,1427.6 1477.5,1427.4 1478,1427.1 1478.5,1427.6 1479,1426.4 1479.5,1427.1 1480,1426.6 1480.5,1426.8 1481,1426.4 1481.5,1427.4 1482,1427.1 1482.5,1427.5 1483,1427.2 1483.5,1427.2 1484,1427.8 1484.5,1427.6 1485,1427.1 1485.5,1426.7 1486,1427.8 1486.5,1426.8 1487,1426.3 1487.5,1426.7 1488,1427.4 1488.5,1427.8 1489,1427.3 1489.5,1427.3 1490,1427.8 1490.5,1427.5 1491,1426.9 1491.5,1426.9 1492,1427.5 1492.5,1426.7 1493,1426.3 1493.5,1426.7 1494,1426.6 1494.5,1425.1 1495,1425.4 1495.5,1425.3 1496,1423.5 1496.5,1423 1497,1423.2 1497.5,1421.5 1498,1420.6 1498.5,1418.7 1499,1415.7 1499.5,1415.5 1500,1415.2 1500.5,1414.4 1501,1419.7 1501.5,1428 1502,1429.7 1502.5,1430.4 1503,1428.9 1503.5,1428.9 1504,1427.8 1504.5,1428.7 1505,1427.5 1505.5,1428.1 1506,1427.8 1506.5,1427.3 1507,1426.5 1507.5,1426.6 1508,1427 1508.5,1426.8 1509,1427.3 1509.5,1427 1510,1426.7 1510.5,1427.2 1511,1427.9 1511.5,1426.5 1512,1426.7 1512.5,1426.1 1513,1426.3 1513.5,1426.2 1514,1426.9 1514.5,1427.6 1515,1427.4 1515.5,1427.8 1516,1427.6 1516.5,1427.2 1517,1427.1 1517.5,1426.1 1518,1426.8 1518.5,1426.6 1519,1427.2 1519.5,1426.2 1520,1427.1 1520.5,1426.8 1521,1427 1521.5,1426.8 1522,1426.3 1522.5,1427.4 1523,1427.5 1523.5,1427.2 1524,1426.3 1524.5,1427.2 1525,1427.7 1525.5,1427.9 1526,1427.5 1526.5,1426.2 1527,1427.7 1527.5,1427.3 1528,1426.6 1528.5,1427.8 1529,1427.6 1529.5,1427.7 1530,1426.5 1530.5,1427.1 1531,1426.8 1531.5,1426.6 1532,1427.5 1532.5,1427.2 1533,1426.7 1533.5,1427.1 1534,1427.8 1534.5,1427.1 1535,1427.7 1535.5,1427.1 1536,1427.9 1536.5,1426.2 1537,1426.9 1537.5,1427.1 1538,1427.4 1538.5,1427.8 1539,1427.2 1539.5,1427 1540,1427.2 1540.5,1427.1 1541,1427.4 1541.5,1427.8 1542,1426.1 1542.5,1426.7 1543,1427.7 1543.5,1426.2 1544,1427.5 1544.5,1426.2 1545,1427.3 1545.5,1427.5 1546,1426.5 1546.5,1426.8 1547,1426.5 1547.5,1427.4 1548,1427.1 1548.5,1427.2 1549,1426.7 1549.5,1427.2 1550,1427.8 1550.5,1427.5 1551,1427.8 1551.5,1426.5 1552,1427 1552.5,1426.8 1553,1426.7 1553.5,1427.5 1554,1426.4 1554.5,1427.1 1555,1427.5 1555.5,1427.8 1556,1426.1 1556.5,1426.6 1557,1427 1557.5,1427.8 1558,1426.4 1558.5,1427.6 1559,1426.8 1559.5,1427.1 1560,1427.8 1560.5,1426.2 1561,1426.7 1561.5,1426.4 1562,1426.3 1562.5,1426.6 1563,1427.4 1563.5,1427.1 1564,1426.3 1564.5,1427.5 1565,1427 1565.5,1426.4 1566,1427.6 1566.5,1427.6 1567,1426.5 1567.5,1427.8 1568,1427.6 1568.5,1426.5 1569,1426.1 1569.5,1427.7 1570,1427.6 1570.5,1426.3 1571,1427.5 1571.5,1427.5 1572,1427.2 1572.5,1427.6 1573,1427.9 1573.5,1426.7 1574,1427.6 1574.5,1427.8 1575,1426.7 1575.5,1427.3 1576,1427.3 1576.5,1427.8 1577,1427.5 1577.5,1427.1 1578,1427.3 1578.5,1428 1579,1427.4 1579.5,1428.9 1580,1429.1 1580.5,1428.1 1581,1429.1 1581.5,1429.3 1582,1428.5 1582.5,1429.8 1583,1430 1583.5,1429.1 1584,1428.6 1584.5,1428.8 1585,1429.6 1585.5,1428.9 1586,1429.5 1586.5,1428.2 1587,1428 1587.5,1428.3 1588,1429.2 1588.5,1427.5 1589,1427 1589.5,1427.9 1590,1426.4 1590.5,1427.1 1591,1425.7 1591.5,1425.6 1592,1426 1592.5,1426 1593,1424.8 1593.5,1424.6 1594,1423.5 1594.5,1423.8 1595,1423.3 1595.5,1424 1596,1423.5 1596.5,1423.3 1597,1422.6 1597.5,1422.5 1598,1421.2 1598.5,1421.3 1599,1420.8 1599.5,1420.4 1600,1420.9 1600.5,1413.6 1601,1410 1601.5,1409.9 1602,1411 1602.5,1419.5 1603,1433 1603.5,1443.3 1604,1444.3 1604.5,1444.3 1605,1442.1 1605.5,1436 1606,1431.8 1606.5,1428.5 1607,1426.3 1607.5,1423.8 1608,1424.6 1608.5,1425.3 1609,1424.3 1609.5,1424.9 1610,1426.1 1610.5,1425.3 1611,1425.3 1611.5,1426.2 1612,1426.5 1612.5,1425.7 1613,1425.3 1613.5,1426.4 1614,1426.7 1614.5,1427.1 1615,1426.8 1615.5,1426.3 1616,1426.8 1616.5,1426.5 1617,1426.9 1617.5,1426.9 1618,1427.7 1618.5,1427.7 1619,1427.8 1619.5,1427 1620,1427.8 1620.5,1426.4 1621,1427.8 1621.5,1427.3 1622,1427.7 1622.5,1426.8 1623,1427.9 1623.5,1426.1 1624,1427.6 1624.5,1427.6 1625,1426.8 1625.5,1427.6 1626,1426.5 1626.5,1427.5 1627,1426.9 1627.5,1426.8 1628,1426.5 1628.5,1427.5 1629,1427.4 1629.5,1426.3 1630,1427.9 1630.5,1426.5 1631,1426.8 1631.5,1426.8 1632,1427.1 1632.5,1427.7 1633,1427.8 1633.5,1427.2 1634,1426.8 1634.5,1426.3 1635,1426.2 1635.5,1427 1636,1427.1 1636.5,1426.9 1637,1427.9 1637.5,1426.8 1638,1426.7 1638.5,1426.9 1639,1426.4 1639.5,1427.8 1640,1427.2 1640.5,1427.1 1641,1426.9 1641.5,1426.6 1642,1426.7 1642.5,1427 1643,1426.9 1643.5,1427.9 1644,1427.1 1644.5,1426.5 1645,1426.2 1645.5,1426.4 1646,1426.7 1646.5,1427.5 1647,1427.7 1647.5,1426.5 1648,1427.5 1648.5,1426.9 1649,1427.1 1649.5,1427.1 1650,1426.2 1650.5,1426.2 1651,1427.3 1651.5,1427.3 1652,1426.8 1652.5,1427.8 1653,1427.6 1653.5,1426.6 1654,1426.2 1654.5,1427.1 1655,1427.3 1655.5,1426.5 1656,1426.2 1656.5,1427 1657,1426.2 1657.5,1427.4 1658,1427.2 1658.5,1426.6 1659,1426.9 1659.5,1426.5 1660,1426.4 1660.5,1426.4 1661,1427.6 1661.5,1426.9 1662,1427.4 1662.5,1426.7 1663,1427.6 1663.5,1427.2 1664,1427.3 1664.5,1426.8 1665,1427.1 1665.5,1426.4 1666,1427.9 1666.5,1427.3 1667,1427.1 1667.5,1427.2 1668,1426.3 1668.5,1426.7 1669,1426.5 1669.5,1427.6 1670,1426.1 1670.5,1426.9 1671,1427.7 1671.5,1427.5 1672,1427.4 1672.5,1426.6 1673,1426.5 1673.5,1427.4 1674,1426.6 1674.5,1427.4 1675,1426.7 1675.5,1427.5 1676,1427.1 1676.5,1427.6 1677,1427.9 1677.5,1426.8 1678,1427.9 1678.5,1426.1 1679,1427.7 1679.5,1426.2 1680,1427.1 1680.5,1426.8 1681,1427.5 1681.5,1426.7 1682,1426.5 1682.5,1427.5 1683,1427.1 1683.5,1427.5 1684,1427 1684.5,1426.2 1685,1427.5 1685.5,1426.5 1686,1426.9 1686.5,1426.1 1687,1426.6 1687.5,1427.3 1688,1427.5 1688.5,1427.2 1689,1426.9 1689.5,1427.4 1690,1427.3 1690.5,1426.5 1691,1427.1 1691.5,1427.2 1692,1427.4 1692.5,1426.5 1693,1426.7 1693.5,1426.7 1694,1426.3 1694.5,1426.7 1695,1427.4 1695.5,1427.1 1696,1426.4 1696.5,1427.4 1697,1426.3 1697.5,1427.5 1698,1426.4 1698.5,1426.3 1699,1426.6 1699.5,1427 1700,1426.6 1700.5,1427.7 1701,1427.8 1701.5,1426.6 1702,1427.4 1702.5,1427.4 1703,1427.1 1703.5,1426.6 1704,1427.8 1704.5,1427.8 1705,1426.1 1705.5,1426.7 1706,1426.7 1706.5,1426.5 1707,1426.9 1707.5,1427.7 1708,1426.1 1708.5,1427.6 1709,1426.7 1709.5,1426.1 1710,1427.7 1710.5,1426.6 1711,1426.5 1711.5,1426.3 1712,1426.8 1712.5,1426.3 1713,1426.4 1713.5,1426.6 1714,1427.1 1714.5,1426.9 1715,1426.6 1715.5,1427 1716,1427.5 1716.5,1427.4 1717,1426.7 1717.5,1427.8 1718,1427.5 1718.5,1427.1 1719,1427 1719.5,1426.7 1720,1426.3 1720.5,1427.7 1721,1427.2 1721.5,1426.3 1722,1427.8 1722.5,1427.7 1723,1426.2 1723.5,1427.4 1724,1426.5 1724.5,1427.1 1725,1427.6 1725.5,1426.7 1726,1427 1726.5,1427.3 1727,1426.4 1727.5,1427.2 1728,1426.9 1728.5,1427.9 1729,1426.4 1729.5,1427.4 1730,1426.2 1730.5,1426.6 1731,1426.3 1731.5,1426.4 1732,1427.1 1732.5,1426.4 1733,1427.5 1733.5,1426.3 1734,1427.2 1734.5,1427.6 1735,1426.3 1735.5,1426.5 1736,1427.5 1736.5,1426.9 1737,1427.8 1737.5,1426.7 1738,1426.8 1738.5,1427.8 1739,1426.7 1739.5,1427.8 1740,1427.7 1740.5,1426.5 1741,1427.1 1741.5,1427.8 1742,1426.3 1742.5,1427.5 1743,1427.2 1743.5,1426.9 1744,1426.5 1744.5,1425.4 1745,1426.8 1745.5,1425.1 1746,1426.2 1746.5,1425.9 1747,1425 1747.5,1425.5 1748,1424.8 1748.5,1424.9 1749,1423.1 1749.5,1424.1 1750,1422.6 1750.5,1422.8 1751,1421.6 1751.5,1421.7 1752,1420.4 1752.5,1420.9 1753,1419.9 1753.5,1420.8 1754,1420 1754.5,1421.9 1755,1422.6 1755.5,1423.2 1756,1425.3 1756.5,1426.3 1757,1425.7 1757.5,1423.5 1758,1424 1758.5,1423.4 1759,1416.9 1759.5,1409.5 1760,1404.8 1760.5,1403.9 1761,1404.2 1761.5,1404.6 1762,1403.6 1762.5,1412.6 1763,1424.6 1763.5,1437.6 1764,1437.2 1764.5,1437.3 1765,1438.9 1765.5,1431.4 1766,1423.5 1766.5,1419.6 1767,1417.2 1767.5,1415.3 1768,1415.1 1768.5,1414.3 1769,1415.8 1769.5,1419.3 1770,1420.1 1770.5,1423.4 1771,1423.5 1771.5,1426 1772,1425.2 1772.5,1427.5 1773,1428.1 1773.5,1428 1774,1426.8 1774.5,1428 1775,1427.7 1775.5,1427.8 1776,1427.2 1776.5,1428 1777,1428.5 1777.5,1427.2 1778,1428.5 1778.5,1427.6 1779,1427.2 1779.5,1427 1780,1427.3 1780.5,1427.6 1781,1427.3 1781.5,1427.8 1782,1427 1782.5,1427 1783,1427.9 1783.5,1426.5 1784,1426.1 1784.5,1426.7 1785,1426.7 1785.5,1426.3 1786,1426.8 1786.5,1426.2 1787,1427.7 1787.5,1427 1788,1427.7 1788.5,1427.3 1789,1427.4 1789.5,1427.5 1790,1426.6 1790.5,1427.4 1791,1426.5 1791.5,1427.1 1792,1427.2 1792.5,1427.5 1793,1426.4 1793.5,1426.7 1794,1427.6 1794.5,1427.5 1795,1427.8 1795.5,1426.3 1796,1426.5 1796.5,1426.3 1797,1427.4 1797.5,1427.4 1798,1427.2 1798.5,1427.5 1799,1427 1799.5,1427.1 1800,1427.7 1800.5,1427.2 1801,1427.2 1801.5,1427.1 1802,1427 1802.5,1427.4 1803,1427.1 1803.5,1426.3 1804,1426.8 1804.5,1426.8 1805,1426.8 1805.5,1427.1 1806,1426.7 1806.5,1426.8 1807,1426.8 1807.5,1426.7 1808,1427.8 1808.5,1426.2 1809,1426.1 1809.5,1427.3 1810,1426.8 1810.5,1426.9 1811,1427.1 1811.5,1426.7 1812,1426.5 1812.5,1426.1 1813,1427.6 1813.5,1427.7 1814,1426.6 1814.5,1426.9 1815,1426.6 1815.5,1426.1 1816,1427.6 1816.5,1427.5 1817,1426.5 1817.5,1426.5 1818,1427.3 1818.5,1427.5 1819,1426.9 1819.5,1426.7 1820,1426.4 1820.5,1427.5 1821,1427.6 1821.5,1427.6 1822,1426.2 1822.5,1427.1 1823,1427.8 1823.5,1427.3 1824,1426.8 1824.5,1426.3 1825,1426.1 1825.5,1427.3 1826,1426.1 1826.5,1427.5 1827,1427.2 1827.5,1426.9 1828,1427.6 1828.5,1427.7 1829,1427.1 1829.5,1426.2 1830,1427.1 1830.5,1426.8 1831,1426.5 1831.5,1427.7 1832,1427.3 1832.5,1426.2 1833,1426.4 1833.5,1426.6 1834,1427 1834.5,1426.6 1835,1426.8 1835.5,1427.5 1836,1426.3 1836.5,1427.3 1837,1426.6 1837.5,1427.7 1838,1427.7 1838.5,1426.6 1839,1427.1 1839.5,1426.2 1840,1426.7 1840.5,1427.1 1841,1427.1 1841.5,1426.6 1842,1426 1842.5,1426.2 1843,1427 1843.5,1426.3 1844,1426.5 1844.5,1427.1 1845,1427.6 1845.5,1426.9 1846,1426.4 1846.5,1427 1847,1426.5 1847.5,1427.4 1848,1426.3 1848.5,1426.4 1849,1426.8 1849.5,1427.6 1850,1426.3 1850.5,1426.3 1851,1426.2 1851.5,1426.3 1852,1426.6 1852.5,1426.7 1853,1427.3 1853.5,1426.7 1854,1426.8 1854.5,1426.7 1855,1427.4 1855.5,1427.6 1856,1426.7 1856.5,1427.6 1857,1426.4 1857.5,1427.7 1858,1426.9 1858.5,1427.2 1859,1426.6 1859.5,1426.4 1860,1426.2 1860.5,1427.5 1861,1426.6 1861.5,1427.2 1862,1426.8 1862.5,1426.9 1863,1426.3 1863.5,1426.3 1864,1426.5 1864.5,1427.2 1865,1426.9 1865.5,1425.9 1866,1427.2 1866.5,1426.7 1867,1426.1 1867.5,1426.4 1868,1426.3 1868.5,1427.4 1869,1426.9 1869.5,1426.5 1870,1426.4 1870.5,1426.5 1871,1426.4 1871.5,1426.5 1872,1427.3 1872.5,1427.3 1873,1427.2 1873.5,1427.5 1874,1427.1 1874.5,1426.1 1875,1426 1875.5,1426.2 1876,1426.4 1876.5,1426.9 1877,1427.4 1877.5,1427 1878,1426.7 1878.5,1426.3 1879,1427.7 1879.5,1427.3 1880,1426.5 1880.5,1426 1881,1427.7 1881.5,1426.4 1882,1427.4 1882.5,1426.1 1883,1427.1 1883.5,1426.5 1884,1427.5 1884.5,1426.4 1885,1426.1 1885.5,1426.3 1886,1427.3 1886.5,1427.7 1887,1427.1 1887.5,1427.1 1888,1426.4 1888.5,1426.4 1889,1426 1889.5,1427.7 1890,1426 1890.5,1427 1891,1426.5 1891.5,1426.2 1892,1426.7 1892.5,1427.6 1893,1426.3 1893.5,1426.2 1894,1427 1894.5,1427.1 1895,1426.8 1895.5,1426.2 1896,1427.5 1896.5,1426.1 1897,1426.2 1897.5,1426.3 1898,1426.8 1898.5,1426.7 1899,1426.9 1899.5,1427.2 1900,1427.5 1900.5,1426.7 1901,1425.9 1901.5,1427.4 1902,1425.9 1902.5,1426.4 1903,1426.1 1903.5,1426.9 1904,1427.3 1904.5,1426.1 1905,1426.4 1905.5,1427.4 1906,1427.1 1906.5,1426.1 1907,1427.1 1907.5,1427.3 1908,1426.6 1908.5,1426.1 1909,1427 1909.5,1426.4 1910,1426.1 1910.5,1426.1 1911,1426.6 1911.5,1426.1 1912,1426.5 1912.5,1426.8 1913,1426.8 1913.5,1426.6 1914,1427.3 1914.5,1426 1915,1426.4 1915.5,1427.5 1916,1427.4 1916.5,1427.5 1917,1427.2 1917.5,1426.8 1918,1427.3 1918.5,1426.9 1919,1426 1919.5,1426.3 1920,1426 1920.5,1427.4 1921,1426.4 1921.5,1426.6 1922,1426.8 1922.5,1426 1923,1427.1 1923.5,1427.3 1924,1427.3 1924.5,1427.4 1925,1426.4 1925.5,1426.1 1926,1427.2 1926.5,1427.1 1927,1426.5 1927.5,1426.4 1928,1426.1 1928.5,1427.3 1929,1426.6 1929.5,1427.3 1930,1426.4 1930.5,1426.4 1931,1426.7 1931.5,1427.2 1932,1427.4 1932.5,1426.4 1933,1427.1 1933.5,1426.5 1934,1427.4 1934.5,1427.2 1935,1426.8 1935.5,1426.5 1936,1426.3 1936.5,1427.4 1937,1427.2 1937.5,1426.3 1938,1425.9 1938.5,1426.1 1939,1427.5 1939.5,1425.9 1940,1427.3 1940.5,1426.7 1941,1426.8 1941.5,1426.8 1942,1426.5 1942.5,1426.8 1943,1425.9 1943.5,1427.4 1944,1426 1944.5,1426 1945,1427 1945.5,1426.9 1946,1427.2 1946.5,1427 1947,1427.5 1947.5,1425.9 1948,1425.8 1948.5,1426.2 1949,1427.2 1949.5,1426 1950,1426.7 1950.5,1427.2 1951,1426.1 1951.5,1426.7 1952,1427.4 1952.5,1427.1 1953,1426.5 1953.5,1426.6 1954,1426.3 1954.5,1427.5 1955,1427.2 1955.5,1427 1956,1426.3 1956.5,1427.1 1957,1426.6 1957.5,1427.2 1958,1426.4 1958.5,1427.3 1959,1427 1959.5,1426.6 1960,1426.8 1960.5,1427.2 1961,1426.7 1961.5,1427.5 1962,1425.8 1962.5,1427.4 1963,1427 1963.5,1426.6 1964,1427.3 1964.5,1426 1965,1426.4 1965.5,1427 1966,1427.2 1966.5,1426.4 1967,1427.5 1967.5,1426.9 1968,1425.8 1968.5,1426 1969,1425.9 1969.5,1426.8 1970,1426.3 1970.5,1426.2 1971,1426.5 1971.5,1425.9 1972,1427.4 1972.5,1427.2 1973,1426.7 1973.5,1426.5 1974,1426.3 1974.5,1426.8 1975,1426.3 1975.5,1427.5 1976,1427.4 1976.5,1427 1977,1427.2 1977.5,1425.9 1978,1425.9 1978.5,1426.3 1979,1425.9 1979.5,1426.5 1980,1427.5 1980.5,1427.2 1981,1427.4 1981.5,1426.1 1982,1426.1 1982.5,1425.8 1983,1426.2 1983.5,1425.8 1984,1426.7 1984.5,1426.2 1985,1426.9 1985.5,1426.7 1986,1426.8 1986.5,1426.2 1987,1427 1987.5,1426.9 1988,1427" fill="none" stroke="#1565dc" stroke-width="6" stroke-linejoin="round" stroke-linecap="round"/>
    <g id="bragg-znfe2o4" fill="#2ea86a">
      <rect x="488" y="1343" width="6" height="60" rx="1.8"/>
      <rect x="826.8" y="1343" width="6" height="60" rx="1.8"/>
      <rect x="981" y="1343" width="6" height="60" rx="1.8"/>
      <rect x="1027.3" y="1343" width="6" height="60" rx="1.8"/>
      <rect x="1199.1" y="1343" width="6" height="60" rx="1.8"/>
      <rect x="1317" y="1343" width="6" height="60" rx="1.8"/>
      <rect x="1497" y="1343" width="6" height="60" rx="1.8"/>
      <rect x="1598.1" y="1343" width="6" height="60" rx="1.8"/>
      <rect x="1758" y="1343" width="6" height="60" rx="1.8"/>
      <rect x="1851" y="1343" width="6" height="60" rx="1.8"/>
    </g>
    <g id="bragg-zno" fill="#b473dc">
      <rect x="879.4" y="1311.2" width="6" height="59.4" rx="1.8"/>
      <rect x="1011" y="1311.2" width="6" height="59.4" rx="1.8"/>
      <rect x="1337" y="1311.2" width="6" height="59.4" rx="1.8"/>
      <rect x="1926" y="1311.2" width="6" height="59.4" rx="1.8"/>
    </g>
  </g>

  <!-- tick labels -->
  <g font-size="65" text-anchor="middle">
    <text transform="translate(256,1634.8) scale(1,1.035)">10</text>
    <text transform="translate(544.7,1634.8) scale(1,1.035)">20</text>
    <text transform="translate(833.3,1634.8) scale(1,1.035)">30</text>
    <text transform="translate(1122,1634.8) scale(1,1.035)">40</text>
    <text transform="translate(1410.7,1634.8) scale(1,1.035)">50</text>
    <text transform="translate(1699.3,1634.8) scale(1,1.035)">60</text>
    <text transform="translate(1988,1634.8) scale(1,1.035)">70</text>
  </g>

  <!-- x axis title -->
  <g id="xtitle">
    <text transform="translate(972.4,1764.6) scale(1.02,1.035)" font-size="79">2</text>
    <text class="serif" transform="translate(1016.6,1765.1) scale(1.139,1)" font-size="78.4">θ</text>
    <text transform="translate(1080.6,1764.6) scale(0.86,1)" font-size="78">(</text>
    <text transform="translate(1105.1,1736.6)" font-size="54.2">o</text>
    <text transform="translate(1139.2,1764.6) scale(0.86,1)" font-size="78">)</text>
  </g>

  <!-- y axis title -->
  <text transform="translate(70.1,782.1) rotate(-90) scale(1,1.04)" font-size="78.3" text-anchor="middle">Intensity (arb. u.)</text>

  <!-- R-factor annotation -->
  <text transform="translate(213.4,89.3) scale(1,1.04)" font-size="60.3">R<tspan dy="17" font-size="40.2">exp</tspan><tspan dy="-17">= 3.0191 %  R</tspan><tspan dy="17" font-size="40.2">p</tspan><tspan dy="-17">= 4.3052 %  R</tspan><tspan dy="17" font-size="40.2">wp</tspan><tspan dy="-17">= 6.0536 %  GoF= 2.0051</tspan></text>

  <!-- legend -->
  <g id="legend">
    <rect x="1542.6" y="141.1" width="413.1" height="356.2" fill="#ffffff" stroke="#000000" stroke-width="2.8" shape-rendering="crispEdges"/>
    <circle cx="1611.5" cy="178.4" r="12.7" fill="none" stroke="#000000" stroke-width="5.6"/>
    <line x1="1550.8" y1="246.4" x2="1672.3" y2="246.4" stroke="#ff0000" stroke-width="11.2" stroke-linecap="round"/>
    <line x1="1550.3" y1="313.1" x2="1672.9" y2="313.1" stroke="#1565dc" stroke-width="6.2" stroke-linecap="round"/>
    <rect x="1608" y="350.1" width="6" height="60.5" rx="1.8" fill="#2ea86a"/>
    <rect x="1608" y="430.5" width="6" height="59.6" rx="1.8" fill="#b473dc"/>
    <g font-size="55.3">
      <text transform="translate(1686.8,196.8) scale(1,1.04)">Observed</text>
      <text transform="translate(1686.8,263.5) scale(1,1.04)">Calculated</text>
      <text transform="translate(1686.8,331.4) scale(1,1.04)">Difference</text>
      <text transform="translate(1686.8,399.2) scale(1,1.04)">ZnFe<tspan dy="13" font-size="36.9">2</tspan><tspan dy="-13">O</tspan><tspan dy="13" font-size="36.9">4</tspan></text>
      <text transform="translate(1686.8,477.8) scale(1,1.04)">ZnO</text>
    </g>
  </g>
</svg>
</body>
</html>
